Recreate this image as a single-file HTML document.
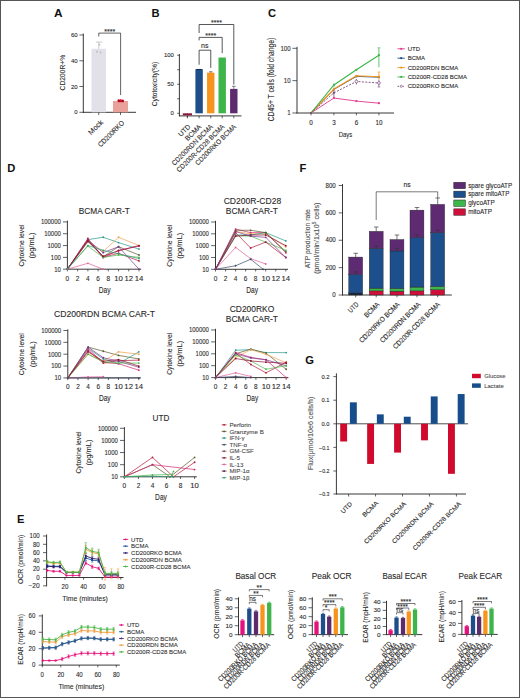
<!DOCTYPE html>
<html><head><meta charset="utf-8"><style>
html,body{margin:0;padding:0;background:#fff;}
svg{display:block;}
text{font-family:"Liberation Sans", sans-serif;}
</style></head><body>
<svg width="520" height="698" viewBox="0 0 520 698">
<rect x="0" y="0" width="520" height="698" fill="#fff"/>
<text x="53.90" y="16.50" font-size="11.2" text-anchor="start" fill="#111" font-weight="bold" textLength="8.6" lengthAdjust="spacingAndGlyphs" >A</text>
<line x1="83.30" y1="33.50" x2="83.30" y2="112.80" stroke="#222" stroke-width="0.9" />
<line x1="83.00" y1="112.30" x2="136.00" y2="112.30" stroke="#222" stroke-width="0.9" />
<line x1="79.40" y1="112.30" x2="83.30" y2="112.30" stroke="#222" stroke-width="0.7" />
<text x="77.60" y="114.40" font-size="6.0" text-anchor="end" fill="#2a2a2a" stroke="#2a2a2a" stroke-width="0.1" >0</text>
<line x1="79.40" y1="86.53" x2="83.30" y2="86.53" stroke="#222" stroke-width="0.7" />
<text x="77.60" y="88.63" font-size="6.0" text-anchor="end" fill="#2a2a2a" stroke="#2a2a2a" stroke-width="0.1" >20</text>
<line x1="79.40" y1="60.77" x2="83.30" y2="60.77" stroke="#222" stroke-width="0.7" />
<text x="77.60" y="62.87" font-size="6.0" text-anchor="end" fill="#2a2a2a" stroke="#2a2a2a" stroke-width="0.1" >40</text>
<line x1="79.40" y1="35.00" x2="83.30" y2="35.00" stroke="#222" stroke-width="0.7" />
<text x="77.60" y="37.10" font-size="6.0" text-anchor="end" fill="#2a2a2a" stroke="#2a2a2a" stroke-width="0.1" >60</text>
<text x="65.00" y="72.60" font-size="7.5" text-anchor="middle" fill="#2a2a2a" stroke="#2a2a2a" stroke-width="0.1" textLength="35.6" lengthAdjust="spacingAndGlyphs" transform="rotate(-90 65.00 72.60)" >CD200R+%</text>
<rect x="91.50" y="48.79" width="14.50" height="63.51" fill="#e2e1ea" />
<rect x="113.00" y="100.96" width="15.00" height="11.34" fill="#e9a29a" />
<line x1="98.75" y1="42.09" x2="98.75" y2="48.79" stroke="#aaa" stroke-width="0.6" />
<line x1="95.80" y1="42.09" x2="102.30" y2="42.09" stroke="#aaa" stroke-width="0.6" />
<circle cx="97.00" cy="51.75" r="0.9" fill="#bbb" />
<circle cx="99.50" cy="44.66" r="0.9" fill="#bbb" />
<circle cx="100.50" cy="52.39" r="0.9" fill="#bbb" />
<line x1="120.50" y1="99.03" x2="120.50" y2="100.96" stroke="#c00" stroke-width="0.6" />
<rect x="117.80" y="99.60" width="6.00" height="2.60" fill="#c8102e" />
<circle cx="118.60" cy="100.60" r="1.1" fill="#a00a20" />
<circle cx="122.80" cy="101.00" r="1.1" fill="#a00a20" />
<line x1="98.75" y1="112.30" x2="98.75" y2="115.00" stroke="#222" stroke-width="0.7" />
<line x1="120.50" y1="112.30" x2="120.50" y2="115.00" stroke="#222" stroke-width="0.7" />
<line x1="98.75" y1="33.10" x2="120.60" y2="33.10" stroke="#222" stroke-width="0.7" />
<line x1="98.75" y1="33.10" x2="98.75" y2="36.50" stroke="#222" stroke-width="0.7" />
<line x1="120.60" y1="33.10" x2="120.60" y2="95.00" stroke="#222" stroke-width="0.7" />
<text x="109.80" y="33.60" font-size="7.0" text-anchor="middle" fill="#2a2a2a" stroke="#2a2a2a" stroke-width="0.1" textLength="11" lengthAdjust="spacingAndGlyphs" >****</text>
<text x="103.50" y="122.80" font-size="7.2" text-anchor="end" fill="#2a2a2a" stroke="#2a2a2a" stroke-width="0.1" textLength="17.5" lengthAdjust="spacingAndGlyphs" transform="rotate(-45 103.50 122.80)" >Mock</text>
<text x="124.70" y="123.50" font-size="7.2" text-anchor="end" fill="#2a2a2a" stroke="#2a2a2a" stroke-width="0.1" textLength="34" lengthAdjust="spacingAndGlyphs" transform="rotate(-45 124.70 123.50)" >CD200RKO</text>
<text x="151.50" y="16.50" font-size="11.2" text-anchor="start" fill="#111" font-weight="bold" >B</text>
<line x1="179.40" y1="54.00" x2="179.40" y2="116.30" stroke="#222" stroke-width="0.9" />
<line x1="179.00" y1="115.90" x2="241.50" y2="115.90" stroke="#222" stroke-width="0.9" />
<line x1="177.20" y1="113.30" x2="179.40" y2="113.30" stroke="#222" stroke-width="0.7" />
<text x="173.80" y="115.40" font-size="6.0" text-anchor="end" fill="#2a2a2a" stroke="#2a2a2a" stroke-width="0.1" textLength="3.3" lengthAdjust="spacingAndGlyphs" >0</text>
<line x1="177.20" y1="98.78" x2="179.40" y2="98.78" stroke="#222" stroke-width="0.7" />
<line x1="177.20" y1="84.25" x2="179.40" y2="84.25" stroke="#222" stroke-width="0.7" />
<text x="173.80" y="86.35" font-size="6.0" text-anchor="end" fill="#2a2a2a" stroke="#2a2a2a" stroke-width="0.1" textLength="6.6" lengthAdjust="spacingAndGlyphs" >50</text>
<line x1="177.20" y1="69.72" x2="179.40" y2="69.72" stroke="#222" stroke-width="0.7" />
<line x1="177.20" y1="55.20" x2="179.40" y2="55.20" stroke="#222" stroke-width="0.7" />
<text x="173.80" y="57.30" font-size="6.0" text-anchor="end" fill="#2a2a2a" stroke="#2a2a2a" stroke-width="0.1" textLength="9.899999999999999" lengthAdjust="spacingAndGlyphs" >100</text>
<text x="157.40" y="84.00" font-size="7.9" text-anchor="middle" fill="#2a2a2a" stroke="#2a2a2a" stroke-width="0.1" textLength="44.5" lengthAdjust="spacingAndGlyphs" transform="rotate(-90 157.40 84.00)" >Cytotoxicity(%)</text>
<rect x="182.80" y="113.30" width="9.20" height="2.00" fill="#8b1a3a" />
<line x1="187.40" y1="113.30" x2="187.40" y2="117.70" stroke="#8b1a3a" stroke-width="0.6" />
<rect x="195.40" y="69.14" width="7.40" height="44.16" fill="#1d4e89" />
<rect x="207.05" y="72.63" width="7.40" height="40.67" fill="#f7941d" />
<rect x="218.50" y="57.52" width="7.40" height="55.78" fill="#3db54a" />
<rect x="230.10" y="88.90" width="7.40" height="24.40" fill="#5c2b6e" />
<line x1="187.40" y1="115.90" x2="187.40" y2="118.30" stroke="#222" stroke-width="0.7" />
<line x1="199.10" y1="115.90" x2="199.10" y2="118.30" stroke="#222" stroke-width="0.7" />
<line x1="210.75" y1="115.90" x2="210.75" y2="118.30" stroke="#222" stroke-width="0.7" />
<line x1="222.20" y1="115.90" x2="222.20" y2="118.30" stroke="#222" stroke-width="0.7" />
<line x1="233.80" y1="115.90" x2="233.80" y2="118.30" stroke="#222" stroke-width="0.7" />
<line x1="233.80" y1="86.28" x2="233.80" y2="88.90" stroke="#333" stroke-width="0.6" />
<line x1="232.00" y1="86.28" x2="235.60" y2="86.28" stroke="#333" stroke-width="0.6" />
<line x1="210.75" y1="71.76" x2="210.75" y2="72.63" stroke="#333" stroke-width="0.6" />
<line x1="209.00" y1="71.76" x2="212.50" y2="71.76" stroke="#333" stroke-width="0.6" />
<line x1="199.10" y1="50.20" x2="210.75" y2="50.20" stroke="#222" stroke-width="0.75" />
<line x1="199.10" y1="50.20" x2="199.10" y2="64.70" stroke="#222" stroke-width="0.75" />
<line x1="210.75" y1="50.20" x2="210.75" y2="67.90" stroke="#222" stroke-width="0.75" />
<text x="204.80" y="47.60" font-size="7.0" text-anchor="middle" fill="#2a2a2a" stroke="#2a2a2a" stroke-width="0.1" >ns</text>
<line x1="199.10" y1="37.40" x2="222.20" y2="37.40" stroke="#222" stroke-width="0.75" />
<line x1="199.10" y1="37.40" x2="199.10" y2="40.40" stroke="#222" stroke-width="0.75" />
<line x1="222.20" y1="37.40" x2="222.20" y2="53.10" stroke="#222" stroke-width="0.75" />
<text x="210.65" y="37.70" font-size="7.6" text-anchor="middle" fill="#2a2a2a" stroke="#2a2a2a" stroke-width="0.1" textLength="11" lengthAdjust="spacingAndGlyphs" >****</text>
<line x1="199.10" y1="24.50" x2="233.80" y2="24.50" stroke="#222" stroke-width="0.75" />
<line x1="199.10" y1="24.50" x2="199.10" y2="33.00" stroke="#222" stroke-width="0.75" />
<line x1="233.80" y1="24.50" x2="233.80" y2="84.50" stroke="#222" stroke-width="0.75" />
<text x="216.45" y="24.80" font-size="7.6" text-anchor="middle" fill="#2a2a2a" stroke="#2a2a2a" stroke-width="0.1" textLength="11" lengthAdjust="spacingAndGlyphs" >****</text>
<line x1="196.50" y1="69.44" x2="201.70" y2="69.44" stroke="#123" stroke-width="0.9" />
<text x="190.90" y="127.20" font-size="7.0" text-anchor="end" fill="#2a2a2a" stroke="#2a2a2a" stroke-width="0.1" textLength="14" lengthAdjust="spacingAndGlyphs" transform="rotate(-45 190.90 127.20)" >UTD</text>
<text x="201.90" y="127.20" font-size="7.0" text-anchor="end" fill="#2a2a2a" stroke="#2a2a2a" stroke-width="0.1" textLength="20" lengthAdjust="spacingAndGlyphs" transform="rotate(-45 201.90 127.20)" >BCMA</text>
<text x="213.30" y="127.20" font-size="7.0" text-anchor="end" fill="#2a2a2a" stroke="#2a2a2a" stroke-width="0.1" textLength="55" lengthAdjust="spacingAndGlyphs" transform="rotate(-45 213.30 127.20)" >CD200RDN BCMA</text>
<text x="224.90" y="127.20" font-size="7.0" text-anchor="end" fill="#2a2a2a" stroke="#2a2a2a" stroke-width="0.1" textLength="64.5" lengthAdjust="spacingAndGlyphs" transform="rotate(-45 224.90 127.20)" >CD200R-CD28 BCMA</text>
<text x="236.50" y="127.20" font-size="7.0" text-anchor="end" fill="#2a2a2a" stroke="#2a2a2a" stroke-width="0.1" textLength="54.5" lengthAdjust="spacingAndGlyphs" transform="rotate(-45 236.50 127.20)" >CD200RKO BCMA</text>
<text x="267.90" y="16.60" font-size="11.2" text-anchor="start" fill="#111" font-weight="bold" >C</text>
<line x1="297.00" y1="46.80" x2="297.00" y2="113.40" stroke="#222" stroke-width="0.9" />
<line x1="296.60" y1="113.00" x2="394.00" y2="113.00" stroke="#222" stroke-width="0.9" />
<line x1="292.40" y1="113.00" x2="297.00" y2="113.00" stroke="#222" stroke-width="0.7" />
<text x="290.60" y="115.30" font-size="6.6" text-anchor="end" fill="#2a2a2a" stroke="#2a2a2a" stroke-width="0.1" textLength="3.4" lengthAdjust="spacingAndGlyphs" >1</text>
<line x1="292.40" y1="80.65" x2="297.00" y2="80.65" stroke="#222" stroke-width="0.7" />
<text x="290.60" y="82.95" font-size="6.6" text-anchor="end" fill="#2a2a2a" stroke="#2a2a2a" stroke-width="0.1" textLength="6.8" lengthAdjust="spacingAndGlyphs" >10</text>
<line x1="292.40" y1="48.30" x2="297.00" y2="48.30" stroke="#222" stroke-width="0.7" />
<text x="290.60" y="50.60" font-size="6.6" text-anchor="end" fill="#2a2a2a" stroke="#2a2a2a" stroke-width="0.1" textLength="10.2" lengthAdjust="spacingAndGlyphs" >100</text>
<line x1="311.00" y1="113.00" x2="311.00" y2="115.30" stroke="#222" stroke-width="0.7" />
<text x="311.00" y="125.00" font-size="6.3" text-anchor="middle" fill="#2a2a2a" stroke="#2a2a2a" stroke-width="0.1" >0</text>
<line x1="333.90" y1="113.00" x2="333.90" y2="115.30" stroke="#222" stroke-width="0.7" />
<text x="333.90" y="125.00" font-size="6.3" text-anchor="middle" fill="#2a2a2a" stroke="#2a2a2a" stroke-width="0.1" >3</text>
<line x1="356.40" y1="113.00" x2="356.40" y2="115.30" stroke="#222" stroke-width="0.7" />
<text x="356.40" y="125.00" font-size="6.3" text-anchor="middle" fill="#2a2a2a" stroke="#2a2a2a" stroke-width="0.1" >6</text>
<line x1="378.90" y1="113.00" x2="378.90" y2="115.30" stroke="#222" stroke-width="0.7" />
<text x="378.90" y="125.00" font-size="6.3" text-anchor="middle" fill="#2a2a2a" stroke="#2a2a2a" stroke-width="0.1" >10</text>
<text x="345.50" y="136.50" font-size="8.0" text-anchor="middle" fill="#2a2a2a" stroke="#2a2a2a" stroke-width="0.1" textLength="13.6" lengthAdjust="spacingAndGlyphs" >Days</text>
<text x="274.40" y="79.60" font-size="8.2" text-anchor="middle" fill="#2a2a2a" stroke="#2a2a2a" stroke-width="0.1" textLength="83.5" lengthAdjust="spacingAndGlyphs" transform="rotate(-90 274.40 79.60)" >CD45+ T cells (fold change)</text>
<polyline points="311.00,113.00 333.90,98.00 356.40,101.10 378.90,103.20" fill="none" stroke="#e3378f" stroke-width="0.9" />
<circle cx="311.00" cy="113.00" r="1.1" fill="#e3378f" />
<circle cx="333.90" cy="98.00" r="1.1" fill="#e3378f" />
<circle cx="356.40" cy="101.10" r="1.1" fill="#e3378f" />
<circle cx="378.90" cy="103.20" r="1.1" fill="#e3378f" />
<polyline points="311.00,113.00 333.90,89.40 356.40,76.40 378.90,77.20" fill="none" stroke="#1d4e89" stroke-width="0.9" />
<circle cx="311.00" cy="113.00" r="1.1" fill="#1d4e89" />
<circle cx="333.90" cy="89.40" r="1.1" fill="#1d4e89" />
<circle cx="356.40" cy="76.40" r="1.1" fill="#1d4e89" />
<circle cx="378.90" cy="77.20" r="1.1" fill="#1d4e89" />
<polyline points="311.00,113.00 333.90,89.00 356.40,75.80 378.90,76.70" fill="none" stroke="#f7941d" stroke-width="1.1" />
<circle cx="311.00" cy="113.00" r="1.1" fill="#f7941d" />
<circle cx="333.90" cy="89.00" r="1.1" fill="#f7941d" />
<circle cx="356.40" cy="75.80" r="1.1" fill="#f7941d" />
<circle cx="378.90" cy="76.70" r="1.1" fill="#f7941d" />
<polyline points="311.00,113.00 333.90,85.00 356.40,69.80 378.90,55.20" fill="none" stroke="#3db54a" stroke-width="1.1" />
<circle cx="311.00" cy="113.00" r="1.1" fill="#3db54a" />
<circle cx="333.90" cy="85.00" r="1.1" fill="#3db54a" />
<circle cx="356.40" cy="69.80" r="1.1" fill="#3db54a" />
<circle cx="378.90" cy="55.20" r="1.1" fill="#3db54a" />
<polyline points="311.00,113.00 333.90,92.80 356.40,81.50 378.90,83.00" fill="none" stroke="#7a4a7e" stroke-width="0.9" stroke-dasharray="2,1.4"/>
<circle cx="311.00" cy="113.00" r="1.1" fill="#7a4a7e" />
<circle cx="333.90" cy="92.80" r="1.1" fill="#7a4a7e" />
<line x1="378.90" y1="47.80" x2="378.90" y2="67.30" stroke="#3db54a" stroke-width="0.8" />
<line x1="377.40" y1="47.80" x2="380.40" y2="47.80" stroke="#3db54a" stroke-width="0.6" />
<line x1="333.90" y1="83.30" x2="333.90" y2="87.60" stroke="#3db54a" stroke-width="0.7" />
<line x1="378.90" y1="72.00" x2="378.90" y2="79.00" stroke="#f7941d" stroke-width="0.8" />
<line x1="377.60" y1="72.00" x2="380.20" y2="72.00" stroke="#f7941d" stroke-width="0.6" />
<line x1="378.90" y1="79.50" x2="378.90" y2="87.00" stroke="#7a4a7e" stroke-width="0.8" />
<line x1="377.60" y1="87.00" x2="380.20" y2="87.00" stroke="#7a4a7e" stroke-width="0.6" />
<line x1="356.40" y1="79.00" x2="356.40" y2="84.50" stroke="#7a4a7e" stroke-width="0.8" />
<line x1="333.90" y1="90.00" x2="333.90" y2="97.00" stroke="#7a4a7e" stroke-width="0.8" />
<circle cx="378.90" cy="83.00" r="1.4" fill="white" stroke="#7a4a7e" stroke-width="0.7"/>
<circle cx="356.40" cy="81.50" r="1.4" fill="white" stroke="#7a4a7e" stroke-width="0.7"/>
<line x1="397.50" y1="48.80" x2="404.80" y2="48.80" stroke="#e3378f" stroke-width="0.9" />
<circle cx="401.20" cy="48.80" r="1.1" fill="#e3378f" />
<text x="407.70" y="50.90" font-size="6.0" text-anchor="start" fill="#2a2a2a" stroke="#2a2a2a" stroke-width="0.1" >UTD</text>
<line x1="397.50" y1="58.18" x2="404.80" y2="58.18" stroke="#1d4e89" stroke-width="0.9" />
<circle cx="401.20" cy="58.18" r="1.1" fill="#1d4e89" />
<text x="407.70" y="60.28" font-size="6.0" text-anchor="start" fill="#2a2a2a" stroke="#2a2a2a" stroke-width="0.1" >BCMA</text>
<line x1="397.50" y1="67.56" x2="404.80" y2="67.56" stroke="#f7941d" stroke-width="0.9" />
<circle cx="401.20" cy="67.56" r="1.1" fill="#f7941d" />
<text x="407.70" y="69.66" font-size="6.0" text-anchor="start" fill="#2a2a2a" stroke="#2a2a2a" stroke-width="0.1" >CD200RDN BCMA</text>
<line x1="397.50" y1="76.94" x2="404.80" y2="76.94" stroke="#3db54a" stroke-width="0.9" />
<circle cx="401.20" cy="76.94" r="1.1" fill="#3db54a" />
<text x="407.70" y="79.04" font-size="6.0" text-anchor="start" fill="#2a2a2a" stroke="#2a2a2a" stroke-width="0.1" >CD200R-CD28 BCMA</text>
<line x1="397.50" y1="86.32" x2="404.80" y2="86.32" stroke="#7a4a7e" stroke-width="0.9" stroke-dasharray="1.5,1"/>
<circle cx="401.20" cy="86.32" r="1.1" fill="white" stroke="#7a4a7e" stroke-width="0.6"/>
<text x="407.70" y="88.42" font-size="6.0" text-anchor="start" fill="#2a2a2a" stroke="#2a2a2a" stroke-width="0.1" >CD200RKO BCMA</text>
<text x="299.50" y="171.70" font-size="11.2" text-anchor="start" fill="#111" font-weight="bold" >F</text>
<line x1="342.50" y1="184.00" x2="342.50" y2="295.40" stroke="#222" stroke-width="0.9" />
<line x1="342.10" y1="295.00" x2="451.80" y2="295.00" stroke="#222" stroke-width="0.9" />
<line x1="338.70" y1="295.00" x2="342.50" y2="295.00" stroke="#222" stroke-width="0.7" />
<text x="335.80" y="297.20" font-size="6.3" text-anchor="end" fill="#2a2a2a" stroke="#2a2a2a" stroke-width="0.1" textLength="3.43" lengthAdjust="spacingAndGlyphs" >0</text>
<line x1="338.70" y1="267.62" x2="342.50" y2="267.62" stroke="#222" stroke-width="0.7" />
<text x="335.80" y="269.82" font-size="6.3" text-anchor="end" fill="#2a2a2a" stroke="#2a2a2a" stroke-width="0.1" textLength="10.290000000000001" lengthAdjust="spacingAndGlyphs" >200</text>
<line x1="338.70" y1="240.25" x2="342.50" y2="240.25" stroke="#222" stroke-width="0.7" />
<text x="335.80" y="242.45" font-size="6.3" text-anchor="end" fill="#2a2a2a" stroke="#2a2a2a" stroke-width="0.1" textLength="10.290000000000001" lengthAdjust="spacingAndGlyphs" >400</text>
<line x1="338.70" y1="212.88" x2="342.50" y2="212.88" stroke="#222" stroke-width="0.7" />
<text x="335.80" y="215.07" font-size="6.3" text-anchor="end" fill="#2a2a2a" stroke="#2a2a2a" stroke-width="0.1" textLength="10.290000000000001" lengthAdjust="spacingAndGlyphs" >600</text>
<line x1="338.70" y1="185.50" x2="342.50" y2="185.50" stroke="#222" stroke-width="0.7" />
<text x="335.80" y="187.70" font-size="6.3" text-anchor="end" fill="#2a2a2a" stroke="#2a2a2a" stroke-width="0.1" textLength="10.290000000000001" lengthAdjust="spacingAndGlyphs" >800</text>
<text x="310.20" y="238.80" font-size="7.4" text-anchor="middle" fill="#505050" stroke="#505050" stroke-width="0.1" textLength="59.1" lengthAdjust="spacingAndGlyphs" transform="rotate(-90 310.20 238.80)" >ATP production rate</text>
<text x="319.0" y="238.3" font-size="7.4" text-anchor="middle" fill="#505050" stroke="#505050" stroke-width="0.1" transform="rotate(-90 319.0 238.3)" textLength="71.6" lengthAdjust="spacingAndGlyphs">(pmol/min/1x10<tspan font-size="5" dy="-2.5">5</tspan><tspan dy="2.5"> cells)</tspan></text>
<rect x="348.75" y="292.95" width="13.90" height="2.05" fill="#1a2840" stroke="#222" stroke-width="0.4"/>
<rect x="348.75" y="292.95" width="13.90" height="0.00" fill="#1a3a2a" stroke="#222" stroke-width="0.4"/>
<rect x="348.75" y="274.47" width="13.90" height="18.48" fill="#1c4f8c" stroke="#222" stroke-width="0.4"/>
<rect x="348.75" y="257.09" width="13.90" height="17.38" fill="#5e2a72" stroke="#222" stroke-width="0.4"/>
<line x1="355.70" y1="253.25" x2="355.70" y2="257.09" stroke="#222" stroke-width="0.6" />
<line x1="353.40" y1="253.25" x2="358.00" y2="253.25" stroke="#222" stroke-width="0.6" />
<line x1="355.70" y1="271.87" x2="355.70" y2="274.47" stroke="#333" stroke-width="0.6" />
<line x1="353.70" y1="271.87" x2="357.70" y2="271.87" stroke="#333" stroke-width="0.6" />
<line x1="355.70" y1="295.00" x2="355.70" y2="297.30" stroke="#222" stroke-width="0.7" />
<rect x="369.25" y="290.89" width="13.90" height="4.11" fill="#d0103a" stroke="#222" stroke-width="0.4"/>
<rect x="369.25" y="288.16" width="13.90" height="2.74" fill="#3cb84a" stroke="#222" stroke-width="0.4"/>
<rect x="369.25" y="248.46" width="13.90" height="39.69" fill="#1c4f8c" stroke="#222" stroke-width="0.4"/>
<rect x="369.25" y="231.35" width="13.90" height="17.11" fill="#5e2a72" stroke="#222" stroke-width="0.4"/>
<line x1="376.20" y1="227.00" x2="376.20" y2="231.35" stroke="#222" stroke-width="0.6" />
<line x1="373.90" y1="227.00" x2="378.50" y2="227.00" stroke="#222" stroke-width="0.6" />
<line x1="376.20" y1="245.86" x2="376.20" y2="248.46" stroke="#333" stroke-width="0.6" />
<line x1="374.20" y1="245.86" x2="378.20" y2="245.86" stroke="#333" stroke-width="0.6" />
<line x1="376.20" y1="295.00" x2="376.20" y2="297.30" stroke="#222" stroke-width="0.7" />
<rect x="390.00" y="291.17" width="13.90" height="3.83" fill="#d0103a" stroke="#222" stroke-width="0.4"/>
<rect x="390.00" y="288.43" width="13.90" height="2.74" fill="#3cb84a" stroke="#222" stroke-width="0.4"/>
<rect x="390.00" y="250.93" width="13.90" height="37.50" fill="#1c4f8c" stroke="#222" stroke-width="0.4"/>
<rect x="390.00" y="239.57" width="13.90" height="11.36" fill="#5e2a72" stroke="#222" stroke-width="0.4"/>
<line x1="396.95" y1="235.00" x2="396.95" y2="239.57" stroke="#222" stroke-width="0.6" />
<line x1="394.65" y1="235.00" x2="399.25" y2="235.00" stroke="#222" stroke-width="0.6" />
<line x1="396.95" y1="248.33" x2="396.95" y2="250.93" stroke="#333" stroke-width="0.6" />
<line x1="394.95" y1="248.33" x2="398.95" y2="248.33" stroke="#333" stroke-width="0.6" />
<line x1="396.95" y1="295.00" x2="396.95" y2="297.30" stroke="#222" stroke-width="0.7" />
<rect x="410.00" y="290.89" width="13.90" height="4.11" fill="#d0103a" stroke="#222" stroke-width="0.4"/>
<rect x="410.00" y="287.06" width="13.90" height="3.83" fill="#3cb84a" stroke="#222" stroke-width="0.4"/>
<rect x="410.00" y="237.51" width="13.90" height="49.55" fill="#1c4f8c" stroke="#222" stroke-width="0.4"/>
<rect x="410.00" y="210.14" width="13.90" height="27.38" fill="#5e2a72" stroke="#222" stroke-width="0.4"/>
<line x1="416.95" y1="207.50" x2="416.95" y2="210.14" stroke="#222" stroke-width="0.6" />
<line x1="414.65" y1="207.50" x2="419.25" y2="207.50" stroke="#222" stroke-width="0.6" />
<line x1="416.95" y1="234.91" x2="416.95" y2="237.51" stroke="#333" stroke-width="0.6" />
<line x1="414.95" y1="234.91" x2="418.95" y2="234.91" stroke="#333" stroke-width="0.6" />
<line x1="416.95" y1="295.00" x2="416.95" y2="297.30" stroke="#222" stroke-width="0.7" />
<rect x="430.75" y="289.80" width="13.90" height="5.20" fill="#d0103a" stroke="#222" stroke-width="0.4"/>
<rect x="430.75" y="286.38" width="13.90" height="3.42" fill="#3cb84a" stroke="#222" stroke-width="0.4"/>
<rect x="430.75" y="232.72" width="13.90" height="53.65" fill="#1c4f8c" stroke="#222" stroke-width="0.4"/>
<rect x="430.75" y="204.39" width="13.90" height="28.33" fill="#5e2a72" stroke="#222" stroke-width="0.4"/>
<line x1="437.70" y1="198.00" x2="437.70" y2="204.39" stroke="#222" stroke-width="0.6" />
<line x1="435.40" y1="198.00" x2="440.00" y2="198.00" stroke="#222" stroke-width="0.6" />
<line x1="437.70" y1="230.12" x2="437.70" y2="232.72" stroke="#333" stroke-width="0.6" />
<line x1="435.70" y1="230.12" x2="439.70" y2="230.12" stroke="#333" stroke-width="0.6" />
<line x1="437.70" y1="295.00" x2="437.70" y2="297.30" stroke="#222" stroke-width="0.7" />
<line x1="376.20" y1="191.80" x2="437.70" y2="191.80" stroke="#222" stroke-width="0.6" />
<line x1="376.20" y1="191.80" x2="376.20" y2="220.00" stroke="#222" stroke-width="0.6" />
<line x1="437.70" y1="191.80" x2="437.70" y2="198.00" stroke="#222" stroke-width="0.6" />
<text x="407.00" y="187.40" font-size="6.8" text-anchor="middle" fill="#2a2a2a" stroke="#2a2a2a" stroke-width="0.1" >ns</text>
<rect x="453.80" y="182.30" width="11.60" height="6.40" fill="#5e2a72" stroke="#222" stroke-width="0.5"/>
<text x="468.20" y="187.50" font-size="6.3" text-anchor="start" fill="#2a2a2a" stroke="#2a2a2a" stroke-width="0.1" >spare glycoATP</text>
<rect x="453.80" y="191.15" width="11.60" height="6.40" fill="#1c4f8c" stroke="#222" stroke-width="0.5"/>
<text x="468.20" y="196.35" font-size="6.3" text-anchor="start" fill="#2a2a2a" stroke="#2a2a2a" stroke-width="0.1" >spare mitoATP</text>
<rect x="453.80" y="200.00" width="11.60" height="6.40" fill="#3cb84a" stroke="#222" stroke-width="0.5"/>
<text x="468.20" y="205.20" font-size="6.3" text-anchor="start" fill="#2a2a2a" stroke="#2a2a2a" stroke-width="0.1" >glycoATP</text>
<rect x="453.80" y="208.85" width="11.60" height="6.40" fill="#d0103a" stroke="#222" stroke-width="0.5"/>
<text x="468.20" y="214.05" font-size="6.3" text-anchor="start" fill="#2a2a2a" stroke="#2a2a2a" stroke-width="0.1" >mitoATP</text>
<text x="359.00" y="305.00" font-size="7.2" text-anchor="end" fill="#2a2a2a" stroke="#2a2a2a" stroke-width="0.1" textLength="11.5" lengthAdjust="spacingAndGlyphs" transform="rotate(-45 359.00 305.00)" >UTD</text>
<text x="380.10" y="305.00" font-size="7.2" text-anchor="end" fill="#2a2a2a" stroke="#2a2a2a" stroke-width="0.1" textLength="18.5" lengthAdjust="spacingAndGlyphs" transform="rotate(-45 380.10 305.00)" >BCMA</text>
<text x="400.20" y="305.00" font-size="7.2" text-anchor="end" fill="#2a2a2a" stroke="#2a2a2a" stroke-width="0.1" textLength="54" lengthAdjust="spacingAndGlyphs" transform="rotate(-45 400.20 305.00)" >CD200RKO BCMA</text>
<text x="421.00" y="305.00" font-size="7.2" text-anchor="end" fill="#2a2a2a" stroke="#2a2a2a" stroke-width="0.1" textLength="54" lengthAdjust="spacingAndGlyphs" transform="rotate(-45 421.00 305.00)" >CD200RDN BCMA</text>
<text x="440.40" y="305.00" font-size="7.2" text-anchor="end" fill="#2a2a2a" stroke="#2a2a2a" stroke-width="0.1" textLength="63" lengthAdjust="spacingAndGlyphs" transform="rotate(-45 440.40 305.00)" >CD200R-CD28 BCMA</text>
<text x="305.30" y="364.40" font-size="11.2" text-anchor="start" fill="#111" font-weight="bold" >G</text>
<line x1="336.40" y1="373.30" x2="336.40" y2="494.30" stroke="#222" stroke-width="0.9" />
<line x1="336.00" y1="494.00" x2="466.00" y2="494.00" stroke="#222" stroke-width="0.9" />
<line x1="336.40" y1="423.80" x2="468.10" y2="423.80" stroke="#222" stroke-width="0.8" />
<line x1="333.30" y1="376.60" x2="336.40" y2="376.60" stroke="#222" stroke-width="0.7" />
<text x="329.40" y="378.70" font-size="6.0" text-anchor="end" fill="#2a2a2a" stroke="#2a2a2a" stroke-width="0.1" textLength="8.0" lengthAdjust="spacingAndGlyphs" >0.2</text>
<line x1="333.30" y1="400.20" x2="336.40" y2="400.20" stroke="#222" stroke-width="0.7" />
<text x="329.40" y="402.30" font-size="6.0" text-anchor="end" fill="#2a2a2a" stroke="#2a2a2a" stroke-width="0.1" textLength="8.0" lengthAdjust="spacingAndGlyphs" >0.1</text>
<line x1="333.30" y1="423.80" x2="336.40" y2="423.80" stroke="#222" stroke-width="0.7" />
<text x="329.40" y="425.90" font-size="6.0" text-anchor="end" fill="#2a2a2a" stroke="#2a2a2a" stroke-width="0.1" textLength="8.0" lengthAdjust="spacingAndGlyphs" >0.0</text>
<line x1="333.30" y1="447.40" x2="336.40" y2="447.40" stroke="#222" stroke-width="0.7" />
<text x="329.40" y="449.50" font-size="6.0" text-anchor="end" fill="#2a2a2a" stroke="#2a2a2a" stroke-width="0.1" textLength="10.3" lengthAdjust="spacingAndGlyphs" >−0.1</text>
<line x1="333.30" y1="471.00" x2="336.40" y2="471.00" stroke="#222" stroke-width="0.7" />
<text x="329.40" y="473.10" font-size="6.0" text-anchor="end" fill="#2a2a2a" stroke="#2a2a2a" stroke-width="0.1" textLength="10.3" lengthAdjust="spacingAndGlyphs" >−0.2</text>
<line x1="333.30" y1="494.00" x2="336.40" y2="494.00" stroke="#222" stroke-width="0.7" />
<text x="329.40" y="496.10" font-size="6.0" text-anchor="end" fill="#2a2a2a" stroke="#2a2a2a" stroke-width="0.1" textLength="10.3" lengthAdjust="spacingAndGlyphs" >−0.3</text>
<text x="313.00" y="433.40" font-size="7.2" text-anchor="middle" fill="#505050" stroke="#505050" stroke-width="0.1" textLength="73.4" lengthAdjust="spacingAndGlyphs" transform="rotate(-90 313.00 433.40)" >Flux(μmol/10e6 cells/h)</text>
<rect x="340.20" y="423.80" width="6.90" height="17.70" fill="#cf0a2c" />
<rect x="349.90" y="402.32" width="6.90" height="21.48" fill="#174d8a" />
<line x1="348.60" y1="494.00" x2="348.60" y2="496.50" stroke="#222" stroke-width="0.7" />
<rect x="367.15" y="423.80" width="6.90" height="40.12" fill="#cf0a2c" />
<rect x="376.85" y="414.36" width="6.90" height="9.44" fill="#174d8a" />
<line x1="375.55" y1="494.00" x2="375.55" y2="496.50" stroke="#222" stroke-width="0.7" />
<rect x="394.10" y="423.80" width="6.90" height="28.79" fill="#cf0a2c" />
<rect x="403.80" y="416.72" width="6.90" height="7.08" fill="#174d8a" />
<line x1="402.50" y1="494.00" x2="402.50" y2="496.50" stroke="#222" stroke-width="0.7" />
<rect x="421.05" y="423.80" width="6.90" height="16.52" fill="#cf0a2c" />
<rect x="430.75" y="396.42" width="6.90" height="27.38" fill="#174d8a" />
<line x1="429.45" y1="494.00" x2="429.45" y2="496.50" stroke="#222" stroke-width="0.7" />
<rect x="448.00" y="423.80" width="6.90" height="50.03" fill="#cf0a2c" />
<rect x="457.70" y="394.06" width="6.90" height="29.74" fill="#174d8a" />
<line x1="456.40" y1="494.00" x2="456.40" y2="496.50" stroke="#222" stroke-width="0.7" />
<rect x="472.00" y="373.80" width="8.80" height="4.40" fill="#cf0a2c" />
<rect x="472.00" y="383.40" width="8.80" height="4.40" fill="#174d8a" />
<text x="484.20" y="378.20" font-size="5.8" text-anchor="start" fill="#505050" stroke="#505050" stroke-width="0.1" textLength="21.3" lengthAdjust="spacingAndGlyphs" >Glucose</text>
<text x="484.20" y="387.80" font-size="5.8" text-anchor="start" fill="#505050" stroke="#505050" stroke-width="0.1" textLength="19.5" lengthAdjust="spacingAndGlyphs" >Lactate</text>
<text x="352.70" y="504.40" font-size="6.3" text-anchor="end" fill="#2a2a2a" stroke="#2a2a2a" stroke-width="0.1" textLength="13.5" lengthAdjust="spacingAndGlyphs" transform="rotate(-45 352.70 504.40)" >UTD</text>
<text x="378.90" y="503.40" font-size="6.3" text-anchor="end" fill="#2a2a2a" stroke="#2a2a2a" stroke-width="0.1" textLength="20" lengthAdjust="spacingAndGlyphs" transform="rotate(-45 378.90 503.40)" >BCMA</text>
<text x="406.50" y="504.40" font-size="6.3" text-anchor="end" fill="#2a2a2a" stroke="#2a2a2a" stroke-width="0.1" textLength="56.5" lengthAdjust="spacingAndGlyphs" transform="rotate(-45 406.50 504.40)" >CD200RKO BCMA</text>
<text x="434.00" y="504.40" font-size="6.3" text-anchor="end" fill="#2a2a2a" stroke="#2a2a2a" stroke-width="0.1" textLength="56" lengthAdjust="spacingAndGlyphs" transform="rotate(-45 434.00 504.40)" >CD200RDN BCMA</text>
<text x="461.50" y="504.40" font-size="6.3" text-anchor="end" fill="#2a2a2a" stroke="#2a2a2a" stroke-width="0.1" textLength="65.5" lengthAdjust="spacingAndGlyphs" transform="rotate(-45 461.50 504.40)" >CD200R-CD28 BCMA</text>
<text x="7.20" y="171.60" font-size="11.2" text-anchor="start" fill="#111" font-weight="bold" >D</text>
<line x1="67.40" y1="220.70" x2="67.40" y2="269.60" stroke="#222" stroke-width="0.9" />
<line x1="67.00" y1="269.20" x2="141.20" y2="269.20" stroke="#222" stroke-width="0.9" />
<line x1="63.00" y1="269.20" x2="67.40" y2="269.20" stroke="#222" stroke-width="0.7" />
<text x="60.80" y="271.50" font-size="6.6" text-anchor="end" fill="#2a2a2a" stroke="#2a2a2a" stroke-width="0.1" textLength="6.64" lengthAdjust="spacingAndGlyphs" >10</text>
<line x1="63.00" y1="257.38" x2="67.40" y2="257.38" stroke="#222" stroke-width="0.7" />
<text x="60.80" y="259.68" font-size="6.6" text-anchor="end" fill="#2a2a2a" stroke="#2a2a2a" stroke-width="0.1" textLength="9.959999999999999" lengthAdjust="spacingAndGlyphs" >100</text>
<line x1="63.00" y1="245.55" x2="67.40" y2="245.55" stroke="#222" stroke-width="0.7" />
<text x="60.80" y="247.85" font-size="6.6" text-anchor="end" fill="#2a2a2a" stroke="#2a2a2a" stroke-width="0.1" textLength="13.28" lengthAdjust="spacingAndGlyphs" >1000</text>
<line x1="63.00" y1="233.72" x2="67.40" y2="233.72" stroke="#222" stroke-width="0.7" />
<text x="60.80" y="236.03" font-size="6.6" text-anchor="end" fill="#2a2a2a" stroke="#2a2a2a" stroke-width="0.1" textLength="16.599999999999998" lengthAdjust="spacingAndGlyphs" >10000</text>
<line x1="63.00" y1="221.90" x2="67.40" y2="221.90" stroke="#222" stroke-width="0.7" />
<text x="60.80" y="224.20" font-size="6.6" text-anchor="end" fill="#2a2a2a" stroke="#2a2a2a" stroke-width="0.1" textLength="19.919999999999998" lengthAdjust="spacingAndGlyphs" >100000</text>
<line x1="67.40" y1="269.20" x2="67.40" y2="271.40" stroke="#222" stroke-width="0.7" />
<text x="67.40" y="280.70" font-size="6.6" text-anchor="middle" fill="#2a2a2a" stroke="#2a2a2a" stroke-width="0.1" textLength="3.6" lengthAdjust="spacingAndGlyphs" >0</text>
<line x1="77.63" y1="269.20" x2="77.63" y2="271.40" stroke="#222" stroke-width="0.7" />
<text x="77.63" y="280.70" font-size="6.6" text-anchor="middle" fill="#2a2a2a" stroke="#2a2a2a" stroke-width="0.1" textLength="3.6" lengthAdjust="spacingAndGlyphs" >2</text>
<line x1="87.86" y1="269.20" x2="87.86" y2="271.40" stroke="#222" stroke-width="0.7" />
<text x="87.86" y="280.70" font-size="6.6" text-anchor="middle" fill="#2a2a2a" stroke="#2a2a2a" stroke-width="0.1" textLength="3.6" lengthAdjust="spacingAndGlyphs" >4</text>
<line x1="98.09" y1="269.20" x2="98.09" y2="271.40" stroke="#222" stroke-width="0.7" />
<text x="98.09" y="280.70" font-size="6.6" text-anchor="middle" fill="#2a2a2a" stroke="#2a2a2a" stroke-width="0.1" textLength="3.6" lengthAdjust="spacingAndGlyphs" >6</text>
<line x1="108.31" y1="269.20" x2="108.31" y2="271.40" stroke="#222" stroke-width="0.7" />
<text x="108.31" y="280.70" font-size="6.6" text-anchor="middle" fill="#2a2a2a" stroke="#2a2a2a" stroke-width="0.1" textLength="3.6" lengthAdjust="spacingAndGlyphs" >8</text>
<line x1="118.54" y1="269.20" x2="118.54" y2="271.40" stroke="#222" stroke-width="0.7" />
<text x="118.54" y="280.70" font-size="6.6" text-anchor="middle" fill="#2a2a2a" stroke="#2a2a2a" stroke-width="0.1" textLength="8.6" lengthAdjust="spacingAndGlyphs" >10</text>
<line x1="128.77" y1="269.20" x2="128.77" y2="271.40" stroke="#222" stroke-width="0.7" />
<text x="128.77" y="280.70" font-size="6.6" text-anchor="middle" fill="#2a2a2a" stroke="#2a2a2a" stroke-width="0.1" textLength="8.6" lengthAdjust="spacingAndGlyphs" >12</text>
<line x1="139.00" y1="269.20" x2="139.00" y2="271.40" stroke="#222" stroke-width="0.7" />
<text x="139.00" y="280.70" font-size="6.6" text-anchor="middle" fill="#2a2a2a" stroke="#2a2a2a" stroke-width="0.1" textLength="8.6" lengthAdjust="spacingAndGlyphs" >14</text>
<text x="104.70" y="292.50" font-size="8.6" text-anchor="middle" fill="#2a2a2a" stroke="#2a2a2a" stroke-width="0.1" textLength="11.8" lengthAdjust="spacingAndGlyphs" >Day</text>
<text x="23.70" y="245.55" font-size="8.0" text-anchor="middle" fill="#2a2a2a" stroke="#2a2a2a" stroke-width="0.1" textLength="42" lengthAdjust="spacingAndGlyphs" transform="rotate(-90 23.70 245.55)" >Cytokine level</text>
<text x="34.40" y="245.55" font-size="8.0" text-anchor="middle" fill="#2a2a2a" stroke="#2a2a2a" stroke-width="0.1" textLength="26" lengthAdjust="spacingAndGlyphs" transform="rotate(-90 34.40 245.55)" >(pg/mL)</text>
<text x="104.30" y="214.10" font-size="8.3" text-anchor="middle" fill="#2a2a2a" stroke="#2a2a2a" stroke-width="0.1" textLength="51.2" lengthAdjust="spacingAndGlyphs" >BCMA CAR-T</text>
<polyline points="67.40,269.20 87.86,239.64 103.20,237.27 118.54,242.59 139.00,249.10" fill="none" stroke="#2a9a8a" stroke-width="0.7" />
<circle cx="67.40" cy="269.20" r="0.9" fill="#2a9a8a" />
<circle cx="87.86" cy="239.64" r="0.9" fill="#2a9a8a" />
<circle cx="103.20" cy="237.27" r="0.9" fill="#2a9a8a" />
<circle cx="118.54" cy="242.59" r="0.9" fill="#2a9a8a" />
<circle cx="139.00" cy="249.10" r="0.9" fill="#2a9a8a" />
<polyline points="67.40,269.20 87.86,242.00 103.20,251.46 118.54,237.27 139.00,245.55" fill="none" stroke="#f0a050" stroke-width="0.7" />
<circle cx="67.40" cy="269.20" r="0.9" fill="#f0a050" />
<circle cx="87.86" cy="242.00" r="0.9" fill="#f0a050" />
<circle cx="103.20" cy="251.46" r="0.9" fill="#f0a050" />
<circle cx="118.54" cy="237.27" r="0.9" fill="#f0a050" />
<circle cx="139.00" cy="245.55" r="0.9" fill="#f0a050" />
<polyline points="67.40,269.20 87.86,241.41 103.20,256.78 118.54,246.73 139.00,255.01" fill="none" stroke="#5a5a2a" stroke-width="0.7" />
<circle cx="67.40" cy="269.20" r="0.9" fill="#5a5a2a" />
<circle cx="87.86" cy="241.41" r="0.9" fill="#5a5a2a" />
<circle cx="103.20" cy="256.78" r="0.9" fill="#5a5a2a" />
<circle cx="118.54" cy="246.73" r="0.9" fill="#5a5a2a" />
<circle cx="139.00" cy="255.01" r="0.9" fill="#5a5a2a" />
<polyline points="67.40,269.20 87.86,239.64 103.20,257.38 118.54,250.28 139.00,246.14" fill="none" stroke="#d6246e" stroke-width="0.7" />
<circle cx="67.40" cy="269.20" r="0.9" fill="#d6246e" />
<circle cx="87.86" cy="239.64" r="0.9" fill="#d6246e" />
<circle cx="103.20" cy="257.38" r="0.9" fill="#d6246e" />
<circle cx="118.54" cy="250.28" r="0.9" fill="#d6246e" />
<circle cx="139.00" cy="246.14" r="0.9" fill="#d6246e" />
<polyline points="67.40,269.20 87.86,238.45 103.20,257.38 118.54,253.24 139.00,260.92" fill="none" stroke="#b5173a" stroke-width="0.7" />
<circle cx="67.40" cy="269.20" r="0.9" fill="#b5173a" />
<circle cx="87.86" cy="238.45" r="0.9" fill="#b5173a" />
<circle cx="103.20" cy="257.38" r="0.9" fill="#b5173a" />
<circle cx="118.54" cy="253.24" r="0.9" fill="#b5173a" />
<circle cx="139.00" cy="260.92" r="0.9" fill="#b5173a" />
<polyline points="67.40,269.20 87.86,246.14 103.20,257.38 118.54,255.01 139.00,257.38" fill="none" stroke="#4cb848" stroke-width="0.7" />
<circle cx="67.40" cy="269.20" r="0.9" fill="#4cb848" />
<circle cx="87.86" cy="246.14" r="0.9" fill="#4cb848" />
<circle cx="103.20" cy="257.38" r="0.9" fill="#4cb848" />
<circle cx="118.54" cy="255.01" r="0.9" fill="#4cb848" />
<circle cx="139.00" cy="257.38" r="0.9" fill="#4cb848" />
<polyline points="67.40,269.20 87.86,240.23 103.20,252.64 118.54,246.73 139.00,269.20" fill="none" stroke="#7a3a8a" stroke-width="0.7" />
<circle cx="67.40" cy="269.20" r="0.9" fill="#7a3a8a" />
<circle cx="87.86" cy="240.23" r="0.9" fill="#7a3a8a" />
<circle cx="103.20" cy="252.64" r="0.9" fill="#7a3a8a" />
<circle cx="118.54" cy="246.73" r="0.9" fill="#7a3a8a" />
<circle cx="139.00" cy="269.20" r="0.9" fill="#7a3a8a" />
<polyline points="67.40,269.20 87.86,240.82 103.20,256.19 118.54,250.87 139.00,245.55" fill="none" stroke="#8b1030" stroke-width="0.7" />
<circle cx="67.40" cy="269.20" r="0.9" fill="#8b1030" />
<circle cx="87.86" cy="240.82" r="0.9" fill="#8b1030" />
<circle cx="103.20" cy="256.19" r="0.9" fill="#8b1030" />
<circle cx="118.54" cy="250.87" r="0.9" fill="#8b1030" />
<circle cx="139.00" cy="245.55" r="0.9" fill="#8b1030" />
<polyline points="67.40,269.20 87.86,263.29 103.20,269.20" fill="none" stroke="#e0609a" stroke-width="0.7" />
<circle cx="67.40" cy="269.20" r="0.9" fill="#e0609a" />
<circle cx="87.86" cy="263.29" r="0.9" fill="#e0609a" />
<circle cx="103.20" cy="269.20" r="0.9" fill="#e0609a" />
<polyline points="67.40,269.20 87.86,245.55 103.20,250.28 118.54,253.83 139.00,258.56" fill="none" stroke="#3aa07a" stroke-width="0.7" />
<circle cx="67.40" cy="269.20" r="0.9" fill="#3aa07a" />
<circle cx="87.86" cy="245.55" r="0.9" fill="#3aa07a" />
<circle cx="103.20" cy="250.28" r="0.9" fill="#3aa07a" />
<circle cx="118.54" cy="253.83" r="0.9" fill="#3aa07a" />
<circle cx="139.00" cy="258.56" r="0.9" fill="#3aa07a" />
<line x1="215.50" y1="220.80" x2="215.50" y2="269.70" stroke="#222" stroke-width="0.9" />
<line x1="215.10" y1="269.30" x2="288.00" y2="269.30" stroke="#222" stroke-width="0.9" />
<line x1="211.10" y1="269.30" x2="215.50" y2="269.30" stroke="#222" stroke-width="0.7" />
<text x="208.90" y="271.60" font-size="6.6" text-anchor="end" fill="#2a2a2a" stroke="#2a2a2a" stroke-width="0.1" textLength="6.64" lengthAdjust="spacingAndGlyphs" >10</text>
<line x1="211.10" y1="257.48" x2="215.50" y2="257.48" stroke="#222" stroke-width="0.7" />
<text x="208.90" y="259.78" font-size="6.6" text-anchor="end" fill="#2a2a2a" stroke="#2a2a2a" stroke-width="0.1" textLength="9.959999999999999" lengthAdjust="spacingAndGlyphs" >100</text>
<line x1="211.10" y1="245.65" x2="215.50" y2="245.65" stroke="#222" stroke-width="0.7" />
<text x="208.90" y="247.95" font-size="6.6" text-anchor="end" fill="#2a2a2a" stroke="#2a2a2a" stroke-width="0.1" textLength="13.28" lengthAdjust="spacingAndGlyphs" >1000</text>
<line x1="211.10" y1="233.82" x2="215.50" y2="233.82" stroke="#222" stroke-width="0.7" />
<text x="208.90" y="236.12" font-size="6.6" text-anchor="end" fill="#2a2a2a" stroke="#2a2a2a" stroke-width="0.1" textLength="16.599999999999998" lengthAdjust="spacingAndGlyphs" >10000</text>
<line x1="211.10" y1="222.00" x2="215.50" y2="222.00" stroke="#222" stroke-width="0.7" />
<text x="208.90" y="224.30" font-size="6.6" text-anchor="end" fill="#2a2a2a" stroke="#2a2a2a" stroke-width="0.1" textLength="19.919999999999998" lengthAdjust="spacingAndGlyphs" >100000</text>
<line x1="215.50" y1="269.30" x2="215.50" y2="271.50" stroke="#222" stroke-width="0.7" />
<text x="215.50" y="280.80" font-size="6.6" text-anchor="middle" fill="#2a2a2a" stroke="#2a2a2a" stroke-width="0.1" textLength="3.6" lengthAdjust="spacingAndGlyphs" >0</text>
<line x1="225.54" y1="269.30" x2="225.54" y2="271.50" stroke="#222" stroke-width="0.7" />
<text x="225.54" y="280.80" font-size="6.6" text-anchor="middle" fill="#2a2a2a" stroke="#2a2a2a" stroke-width="0.1" textLength="3.6" lengthAdjust="spacingAndGlyphs" >2</text>
<line x1="235.59" y1="269.30" x2="235.59" y2="271.50" stroke="#222" stroke-width="0.7" />
<text x="235.59" y="280.80" font-size="6.6" text-anchor="middle" fill="#2a2a2a" stroke="#2a2a2a" stroke-width="0.1" textLength="3.6" lengthAdjust="spacingAndGlyphs" >4</text>
<line x1="245.63" y1="269.30" x2="245.63" y2="271.50" stroke="#222" stroke-width="0.7" />
<text x="245.63" y="280.80" font-size="6.6" text-anchor="middle" fill="#2a2a2a" stroke="#2a2a2a" stroke-width="0.1" textLength="3.6" lengthAdjust="spacingAndGlyphs" >6</text>
<line x1="255.67" y1="269.30" x2="255.67" y2="271.50" stroke="#222" stroke-width="0.7" />
<text x="255.67" y="280.80" font-size="6.6" text-anchor="middle" fill="#2a2a2a" stroke="#2a2a2a" stroke-width="0.1" textLength="3.6" lengthAdjust="spacingAndGlyphs" >8</text>
<line x1="265.71" y1="269.30" x2="265.71" y2="271.50" stroke="#222" stroke-width="0.7" />
<text x="265.71" y="280.80" font-size="6.6" text-anchor="middle" fill="#2a2a2a" stroke="#2a2a2a" stroke-width="0.1" textLength="8.6" lengthAdjust="spacingAndGlyphs" >10</text>
<line x1="275.76" y1="269.30" x2="275.76" y2="271.50" stroke="#222" stroke-width="0.7" />
<text x="275.76" y="280.80" font-size="6.6" text-anchor="middle" fill="#2a2a2a" stroke="#2a2a2a" stroke-width="0.1" textLength="8.6" lengthAdjust="spacingAndGlyphs" >12</text>
<line x1="285.80" y1="269.30" x2="285.80" y2="271.50" stroke="#222" stroke-width="0.7" />
<text x="285.80" y="280.80" font-size="6.6" text-anchor="middle" fill="#2a2a2a" stroke="#2a2a2a" stroke-width="0.1" textLength="8.6" lengthAdjust="spacingAndGlyphs" >14</text>
<text x="252.15" y="292.60" font-size="8.6" text-anchor="middle" fill="#2a2a2a" stroke="#2a2a2a" stroke-width="0.1" textLength="11.8" lengthAdjust="spacingAndGlyphs" >Day</text>
<text x="171.80" y="245.65" font-size="8.0" text-anchor="middle" fill="#2a2a2a" stroke="#2a2a2a" stroke-width="0.1" textLength="42" lengthAdjust="spacingAndGlyphs" transform="rotate(-90 171.80 245.65)" >Cytokine level</text>
<text x="182.50" y="245.65" font-size="8.0" text-anchor="middle" fill="#2a2a2a" stroke="#2a2a2a" stroke-width="0.1" textLength="26" lengthAdjust="spacingAndGlyphs" transform="rotate(-90 182.50 245.65)" >(pg/mL)</text>
<text x="252.40" y="203.90" font-size="8.3" text-anchor="middle" fill="#2a2a2a" stroke="#2a2a2a" stroke-width="0.1" textLength="57.5" lengthAdjust="spacingAndGlyphs" >CD200R-CD28</text>
<text x="251.90" y="214.20" font-size="8.3" text-anchor="middle" fill="#2a2a2a" stroke="#2a2a2a" stroke-width="0.1" textLength="52.2" lengthAdjust="spacingAndGlyphs" >BCMA CAR-T</text>
<polyline points="215.50,269.30 235.59,229.09 250.65,232.64 265.71,232.64 285.80,252.75" fill="none" stroke="#d6246e" stroke-width="0.7" />
<circle cx="215.50" cy="269.30" r="0.9" fill="#d6246e" />
<circle cx="235.59" cy="229.09" r="0.9" fill="#d6246e" />
<circle cx="250.65" cy="232.64" r="0.9" fill="#d6246e" />
<circle cx="265.71" cy="232.64" r="0.9" fill="#d6246e" />
<circle cx="285.80" cy="252.75" r="0.9" fill="#d6246e" />
<polyline points="215.50,269.30 235.59,231.46 250.65,233.82 265.71,233.82 285.80,246.83" fill="none" stroke="#f0a050" stroke-width="0.7" />
<circle cx="215.50" cy="269.30" r="0.9" fill="#f0a050" />
<circle cx="235.59" cy="231.46" r="0.9" fill="#f0a050" />
<circle cx="250.65" cy="233.82" r="0.9" fill="#f0a050" />
<circle cx="265.71" cy="233.82" r="0.9" fill="#f0a050" />
<circle cx="285.80" cy="246.83" r="0.9" fill="#f0a050" />
<polyline points="215.50,269.30 235.59,235.01 250.65,235.01 265.71,232.64 285.80,240.92" fill="none" stroke="#2a9a8a" stroke-width="0.7" />
<circle cx="215.50" cy="269.30" r="0.9" fill="#2a9a8a" />
<circle cx="235.59" cy="235.01" r="0.9" fill="#2a9a8a" />
<circle cx="250.65" cy="235.01" r="0.9" fill="#2a9a8a" />
<circle cx="265.71" cy="232.64" r="0.9" fill="#2a9a8a" />
<circle cx="285.80" cy="240.92" r="0.9" fill="#2a9a8a" />
<polyline points="215.50,269.30 235.59,230.28 250.65,230.28 265.71,232.64 285.80,251.56" fill="none" stroke="#5a5a2a" stroke-width="0.7" />
<circle cx="215.50" cy="269.30" r="0.9" fill="#5a5a2a" />
<circle cx="235.59" cy="230.28" r="0.9" fill="#5a5a2a" />
<circle cx="250.65" cy="230.28" r="0.9" fill="#5a5a2a" />
<circle cx="265.71" cy="232.64" r="0.9" fill="#5a5a2a" />
<circle cx="285.80" cy="251.56" r="0.9" fill="#5a5a2a" />
<polyline points="215.50,269.30 235.59,235.60 250.65,236.19 265.71,242.10 285.80,250.38" fill="none" stroke="#4cb848" stroke-width="0.7" />
<circle cx="215.50" cy="269.30" r="0.9" fill="#4cb848" />
<circle cx="235.59" cy="235.60" r="0.9" fill="#4cb848" />
<circle cx="250.65" cy="236.19" r="0.9" fill="#4cb848" />
<circle cx="265.71" cy="242.10" r="0.9" fill="#4cb848" />
<circle cx="285.80" cy="250.38" r="0.9" fill="#4cb848" />
<polyline points="215.50,269.30 235.59,232.64 250.65,248.02 265.71,242.10 285.80,257.48" fill="none" stroke="#b5173a" stroke-width="0.7" />
<circle cx="215.50" cy="269.30" r="0.9" fill="#b5173a" />
<circle cx="235.59" cy="232.64" r="0.9" fill="#b5173a" />
<circle cx="250.65" cy="248.02" r="0.9" fill="#b5173a" />
<circle cx="265.71" cy="242.10" r="0.9" fill="#b5173a" />
<circle cx="285.80" cy="257.48" r="0.9" fill="#b5173a" />
<polyline points="215.50,269.30 235.59,236.19 250.65,235.01 265.71,235.01 285.80,245.65" fill="none" stroke="#8b1030" stroke-width="0.7" />
<circle cx="215.50" cy="269.30" r="0.9" fill="#8b1030" />
<circle cx="235.59" cy="236.19" r="0.9" fill="#8b1030" />
<circle cx="250.65" cy="235.01" r="0.9" fill="#8b1030" />
<circle cx="265.71" cy="235.01" r="0.9" fill="#8b1030" />
<circle cx="285.80" cy="245.65" r="0.9" fill="#8b1030" />
<polyline points="215.50,269.30 235.59,247.42 250.65,258.66 265.71,263.98" fill="none" stroke="#e0609a" stroke-width="0.7" />
<circle cx="215.50" cy="269.30" r="0.9" fill="#e0609a" />
<circle cx="235.59" cy="247.42" r="0.9" fill="#e0609a" />
<circle cx="250.65" cy="258.66" r="0.9" fill="#e0609a" />
<circle cx="265.71" cy="263.98" r="0.9" fill="#e0609a" />
<polyline points="215.50,269.30 235.59,265.75 250.65,259.25 263.20,269.30" fill="none" stroke="#3a4a6a" stroke-width="0.7" />
<circle cx="215.50" cy="269.30" r="0.9" fill="#3a4a6a" />
<circle cx="235.59" cy="265.75" r="0.9" fill="#3a4a6a" />
<circle cx="250.65" cy="259.25" r="0.9" fill="#3a4a6a" />
<circle cx="263.20" cy="269.30" r="0.9" fill="#3a4a6a" />
<polyline points="215.50,269.30 235.59,231.46 250.65,236.19 265.71,237.37 285.80,257.48" fill="none" stroke="#7a3a8a" stroke-width="0.7" />
<circle cx="215.50" cy="269.30" r="0.9" fill="#7a3a8a" />
<circle cx="235.59" cy="231.46" r="0.9" fill="#7a3a8a" />
<circle cx="250.65" cy="236.19" r="0.9" fill="#7a3a8a" />
<circle cx="265.71" cy="237.37" r="0.9" fill="#7a3a8a" />
<circle cx="285.80" cy="257.48" r="0.9" fill="#7a3a8a" />
<line x1="67.80" y1="329.30" x2="67.80" y2="378.30" stroke="#222" stroke-width="0.9" />
<line x1="67.40" y1="377.90" x2="141.00" y2="377.90" stroke="#222" stroke-width="0.9" />
<line x1="63.40" y1="377.90" x2="67.80" y2="377.90" stroke="#222" stroke-width="0.7" />
<text x="61.20" y="380.20" font-size="6.6" text-anchor="end" fill="#2a2a2a" stroke="#2a2a2a" stroke-width="0.1" textLength="6.64" lengthAdjust="spacingAndGlyphs" >10</text>
<line x1="63.40" y1="366.05" x2="67.80" y2="366.05" stroke="#222" stroke-width="0.7" />
<text x="61.20" y="368.35" font-size="6.6" text-anchor="end" fill="#2a2a2a" stroke="#2a2a2a" stroke-width="0.1" textLength="9.959999999999999" lengthAdjust="spacingAndGlyphs" >100</text>
<line x1="63.40" y1="354.20" x2="67.80" y2="354.20" stroke="#222" stroke-width="0.7" />
<text x="61.20" y="356.50" font-size="6.6" text-anchor="end" fill="#2a2a2a" stroke="#2a2a2a" stroke-width="0.1" textLength="13.28" lengthAdjust="spacingAndGlyphs" >1000</text>
<line x1="63.40" y1="342.35" x2="67.80" y2="342.35" stroke="#222" stroke-width="0.7" />
<text x="61.20" y="344.65" font-size="6.6" text-anchor="end" fill="#2a2a2a" stroke="#2a2a2a" stroke-width="0.1" textLength="16.599999999999998" lengthAdjust="spacingAndGlyphs" >10000</text>
<line x1="63.40" y1="330.50" x2="67.80" y2="330.50" stroke="#222" stroke-width="0.7" />
<text x="61.20" y="332.80" font-size="6.6" text-anchor="end" fill="#2a2a2a" stroke="#2a2a2a" stroke-width="0.1" textLength="19.919999999999998" lengthAdjust="spacingAndGlyphs" >100000</text>
<line x1="67.80" y1="377.90" x2="67.80" y2="380.10" stroke="#222" stroke-width="0.7" />
<text x="67.80" y="389.40" font-size="6.6" text-anchor="middle" fill="#2a2a2a" stroke="#2a2a2a" stroke-width="0.1" textLength="3.6" lengthAdjust="spacingAndGlyphs" >0</text>
<line x1="77.94" y1="377.90" x2="77.94" y2="380.10" stroke="#222" stroke-width="0.7" />
<text x="77.94" y="389.40" font-size="6.6" text-anchor="middle" fill="#2a2a2a" stroke="#2a2a2a" stroke-width="0.1" textLength="3.6" lengthAdjust="spacingAndGlyphs" >2</text>
<line x1="88.09" y1="377.90" x2="88.09" y2="380.10" stroke="#222" stroke-width="0.7" />
<text x="88.09" y="389.40" font-size="6.6" text-anchor="middle" fill="#2a2a2a" stroke="#2a2a2a" stroke-width="0.1" textLength="3.6" lengthAdjust="spacingAndGlyphs" >4</text>
<line x1="98.23" y1="377.90" x2="98.23" y2="380.10" stroke="#222" stroke-width="0.7" />
<text x="98.23" y="389.40" font-size="6.6" text-anchor="middle" fill="#2a2a2a" stroke="#2a2a2a" stroke-width="0.1" textLength="3.6" lengthAdjust="spacingAndGlyphs" >6</text>
<line x1="108.37" y1="377.90" x2="108.37" y2="380.10" stroke="#222" stroke-width="0.7" />
<text x="108.37" y="389.40" font-size="6.6" text-anchor="middle" fill="#2a2a2a" stroke="#2a2a2a" stroke-width="0.1" textLength="3.6" lengthAdjust="spacingAndGlyphs" >8</text>
<line x1="118.51" y1="377.90" x2="118.51" y2="380.10" stroke="#222" stroke-width="0.7" />
<text x="118.51" y="389.40" font-size="6.6" text-anchor="middle" fill="#2a2a2a" stroke="#2a2a2a" stroke-width="0.1" textLength="8.6" lengthAdjust="spacingAndGlyphs" >10</text>
<line x1="128.66" y1="377.90" x2="128.66" y2="380.10" stroke="#222" stroke-width="0.7" />
<text x="128.66" y="389.40" font-size="6.6" text-anchor="middle" fill="#2a2a2a" stroke="#2a2a2a" stroke-width="0.1" textLength="8.6" lengthAdjust="spacingAndGlyphs" >12</text>
<line x1="138.80" y1="377.90" x2="138.80" y2="380.10" stroke="#222" stroke-width="0.7" />
<text x="138.80" y="389.40" font-size="6.6" text-anchor="middle" fill="#2a2a2a" stroke="#2a2a2a" stroke-width="0.1" textLength="8.6" lengthAdjust="spacingAndGlyphs" >14</text>
<text x="104.80" y="401.20" font-size="8.6" text-anchor="middle" fill="#2a2a2a" stroke="#2a2a2a" stroke-width="0.1" textLength="11.8" lengthAdjust="spacingAndGlyphs" >Day</text>
<text x="24.10" y="354.20" font-size="8.0" text-anchor="middle" fill="#2a2a2a" stroke="#2a2a2a" stroke-width="0.1" textLength="42" lengthAdjust="spacingAndGlyphs" transform="rotate(-90 24.10 354.20)" >Cytokine level</text>
<text x="34.80" y="354.20" font-size="8.0" text-anchor="middle" fill="#2a2a2a" stroke="#2a2a2a" stroke-width="0.1" textLength="26" lengthAdjust="spacingAndGlyphs" transform="rotate(-90 34.80 354.20)" >(pg/mL)</text>
<text x="104.50" y="316.80" font-size="8.3" text-anchor="middle" fill="#2a2a2a" stroke="#2a2a2a" stroke-width="0.1" textLength="101" lengthAdjust="spacingAndGlyphs" >CD200RDN BCMA CAR-T</text>
<polyline points="67.80,377.90 88.09,347.09 103.30,351.24 118.51,355.38 138.80,358.94" fill="none" stroke="#5a5a2a" stroke-width="0.7" />
<circle cx="67.80" cy="377.90" r="0.9" fill="#5a5a2a" />
<circle cx="88.09" cy="347.09" r="0.9" fill="#5a5a2a" />
<circle cx="103.30" cy="351.24" r="0.9" fill="#5a5a2a" />
<circle cx="118.51" cy="355.38" r="0.9" fill="#5a5a2a" />
<circle cx="138.80" cy="358.94" r="0.9" fill="#5a5a2a" />
<polyline points="67.80,377.90 88.09,348.27 103.30,358.94 118.51,363.68 138.80,351.83" fill="none" stroke="#2a9a8a" stroke-width="0.7" />
<circle cx="67.80" cy="377.90" r="0.9" fill="#2a9a8a" />
<circle cx="88.09" cy="348.27" r="0.9" fill="#2a9a8a" />
<circle cx="103.30" cy="358.94" r="0.9" fill="#2a9a8a" />
<circle cx="118.51" cy="363.68" r="0.9" fill="#2a9a8a" />
<circle cx="138.80" cy="351.83" r="0.9" fill="#2a9a8a" />
<polyline points="67.80,377.90 88.09,354.20 103.30,361.31 118.51,351.83 138.80,354.20" fill="none" stroke="#f0a050" stroke-width="0.7" />
<circle cx="67.80" cy="377.90" r="0.9" fill="#f0a050" />
<circle cx="88.09" cy="354.20" r="0.9" fill="#f0a050" />
<circle cx="103.30" cy="361.31" r="0.9" fill="#f0a050" />
<circle cx="118.51" cy="351.83" r="0.9" fill="#f0a050" />
<circle cx="138.80" cy="354.20" r="0.9" fill="#f0a050" />
<polyline points="67.80,377.90 88.09,348.87 103.30,362.50 118.51,363.68 138.80,370.20" fill="none" stroke="#d6246e" stroke-width="0.7" />
<circle cx="67.80" cy="377.90" r="0.9" fill="#d6246e" />
<circle cx="88.09" cy="348.87" r="0.9" fill="#d6246e" />
<circle cx="103.30" cy="362.50" r="0.9" fill="#d6246e" />
<circle cx="118.51" cy="363.68" r="0.9" fill="#d6246e" />
<circle cx="138.80" cy="370.20" r="0.9" fill="#d6246e" />
<polyline points="67.80,377.90 88.09,350.64 103.30,363.09 118.51,360.72 138.80,360.12" fill="none" stroke="#b5173a" stroke-width="0.7" />
<circle cx="67.80" cy="377.90" r="0.9" fill="#b5173a" />
<circle cx="88.09" cy="350.64" r="0.9" fill="#b5173a" />
<circle cx="103.30" cy="363.09" r="0.9" fill="#b5173a" />
<circle cx="118.51" cy="360.72" r="0.9" fill="#b5173a" />
<circle cx="138.80" cy="360.12" r="0.9" fill="#b5173a" />
<polyline points="67.80,377.90 88.09,347.09 103.30,357.75 118.51,361.31 138.80,367.23" fill="none" stroke="#7a3a8a" stroke-width="0.7" />
<circle cx="67.80" cy="377.90" r="0.9" fill="#7a3a8a" />
<circle cx="88.09" cy="347.09" r="0.9" fill="#7a3a8a" />
<circle cx="103.30" cy="357.75" r="0.9" fill="#7a3a8a" />
<circle cx="118.51" cy="361.31" r="0.9" fill="#7a3a8a" />
<circle cx="138.80" cy="367.23" r="0.9" fill="#7a3a8a" />
<polyline points="67.80,377.90 88.09,354.20 103.30,361.90 118.51,363.09 138.80,363.09" fill="none" stroke="#4cb848" stroke-width="0.7" />
<circle cx="67.80" cy="377.90" r="0.9" fill="#4cb848" />
<circle cx="88.09" cy="354.20" r="0.9" fill="#4cb848" />
<circle cx="103.30" cy="361.90" r="0.9" fill="#4cb848" />
<circle cx="118.51" cy="363.09" r="0.9" fill="#4cb848" />
<circle cx="138.80" cy="363.09" r="0.9" fill="#4cb848" />
<polyline points="67.80,377.90 88.09,351.83 103.30,361.31 118.51,359.53 138.80,366.05" fill="none" stroke="#8b1030" stroke-width="0.7" />
<circle cx="67.80" cy="377.90" r="0.9" fill="#8b1030" />
<circle cx="88.09" cy="351.83" r="0.9" fill="#8b1030" />
<circle cx="103.30" cy="361.31" r="0.9" fill="#8b1030" />
<circle cx="118.51" cy="359.53" r="0.9" fill="#8b1030" />
<circle cx="138.80" cy="366.05" r="0.9" fill="#8b1030" />
<polyline points="67.80,377.90 88.09,376.95 103.30,376.71" fill="none" stroke="#e0609a" stroke-width="0.7" />
<circle cx="67.80" cy="377.90" r="0.9" fill="#e0609a" />
<circle cx="88.09" cy="376.95" r="0.9" fill="#e0609a" />
<circle cx="103.30" cy="376.71" r="0.9" fill="#e0609a" />
<polyline points="67.80,377.90 138.80,377.90" fill="none" stroke="#3a4a6a" stroke-width="0.7" />
<circle cx="67.80" cy="377.90" r="0.9" fill="#3a4a6a" />
<circle cx="138.80" cy="377.90" r="0.9" fill="#3a4a6a" />
<line x1="215.50" y1="328.80" x2="215.50" y2="378.00" stroke="#222" stroke-width="0.9" />
<line x1="215.10" y1="377.60" x2="288.40" y2="377.60" stroke="#222" stroke-width="0.9" />
<line x1="211.10" y1="377.60" x2="215.50" y2="377.60" stroke="#222" stroke-width="0.7" />
<text x="208.90" y="379.90" font-size="6.6" text-anchor="end" fill="#2a2a2a" stroke="#2a2a2a" stroke-width="0.1" textLength="6.64" lengthAdjust="spacingAndGlyphs" >10</text>
<line x1="211.10" y1="365.70" x2="215.50" y2="365.70" stroke="#222" stroke-width="0.7" />
<text x="208.90" y="368.00" font-size="6.6" text-anchor="end" fill="#2a2a2a" stroke="#2a2a2a" stroke-width="0.1" textLength="9.959999999999999" lengthAdjust="spacingAndGlyphs" >100</text>
<line x1="211.10" y1="353.80" x2="215.50" y2="353.80" stroke="#222" stroke-width="0.7" />
<text x="208.90" y="356.10" font-size="6.6" text-anchor="end" fill="#2a2a2a" stroke="#2a2a2a" stroke-width="0.1" textLength="13.28" lengthAdjust="spacingAndGlyphs" >1000</text>
<line x1="211.10" y1="341.90" x2="215.50" y2="341.90" stroke="#222" stroke-width="0.7" />
<text x="208.90" y="344.20" font-size="6.6" text-anchor="end" fill="#2a2a2a" stroke="#2a2a2a" stroke-width="0.1" textLength="16.599999999999998" lengthAdjust="spacingAndGlyphs" >10000</text>
<line x1="211.10" y1="330.00" x2="215.50" y2="330.00" stroke="#222" stroke-width="0.7" />
<text x="208.90" y="332.30" font-size="6.6" text-anchor="end" fill="#2a2a2a" stroke="#2a2a2a" stroke-width="0.1" textLength="19.919999999999998" lengthAdjust="spacingAndGlyphs" >100000</text>
<line x1="215.50" y1="377.60" x2="215.50" y2="379.80" stroke="#222" stroke-width="0.7" />
<text x="215.50" y="389.10" font-size="6.6" text-anchor="middle" fill="#2a2a2a" stroke="#2a2a2a" stroke-width="0.1" textLength="3.6" lengthAdjust="spacingAndGlyphs" >0</text>
<line x1="225.60" y1="377.60" x2="225.60" y2="379.80" stroke="#222" stroke-width="0.7" />
<text x="225.60" y="389.10" font-size="6.6" text-anchor="middle" fill="#2a2a2a" stroke="#2a2a2a" stroke-width="0.1" textLength="3.6" lengthAdjust="spacingAndGlyphs" >2</text>
<line x1="235.70" y1="377.60" x2="235.70" y2="379.80" stroke="#222" stroke-width="0.7" />
<text x="235.70" y="389.10" font-size="6.6" text-anchor="middle" fill="#2a2a2a" stroke="#2a2a2a" stroke-width="0.1" textLength="3.6" lengthAdjust="spacingAndGlyphs" >4</text>
<line x1="245.80" y1="377.60" x2="245.80" y2="379.80" stroke="#222" stroke-width="0.7" />
<text x="245.80" y="389.10" font-size="6.6" text-anchor="middle" fill="#2a2a2a" stroke="#2a2a2a" stroke-width="0.1" textLength="3.6" lengthAdjust="spacingAndGlyphs" >6</text>
<line x1="255.90" y1="377.60" x2="255.90" y2="379.80" stroke="#222" stroke-width="0.7" />
<text x="255.90" y="389.10" font-size="6.6" text-anchor="middle" fill="#2a2a2a" stroke="#2a2a2a" stroke-width="0.1" textLength="3.6" lengthAdjust="spacingAndGlyphs" >8</text>
<line x1="266.00" y1="377.60" x2="266.00" y2="379.80" stroke="#222" stroke-width="0.7" />
<text x="266.00" y="389.10" font-size="6.6" text-anchor="middle" fill="#2a2a2a" stroke="#2a2a2a" stroke-width="0.1" textLength="8.6" lengthAdjust="spacingAndGlyphs" >10</text>
<line x1="276.10" y1="377.60" x2="276.10" y2="379.80" stroke="#222" stroke-width="0.7" />
<text x="276.10" y="389.10" font-size="6.6" text-anchor="middle" fill="#2a2a2a" stroke="#2a2a2a" stroke-width="0.1" textLength="8.6" lengthAdjust="spacingAndGlyphs" >12</text>
<line x1="286.20" y1="377.60" x2="286.20" y2="379.80" stroke="#222" stroke-width="0.7" />
<text x="286.20" y="389.10" font-size="6.6" text-anchor="middle" fill="#2a2a2a" stroke="#2a2a2a" stroke-width="0.1" textLength="8.6" lengthAdjust="spacingAndGlyphs" >14</text>
<text x="252.35" y="400.90" font-size="8.6" text-anchor="middle" fill="#2a2a2a" stroke="#2a2a2a" stroke-width="0.1" textLength="11.8" lengthAdjust="spacingAndGlyphs" >Day</text>
<text x="171.80" y="353.80" font-size="8.0" text-anchor="middle" fill="#2a2a2a" stroke="#2a2a2a" stroke-width="0.1" textLength="42" lengthAdjust="spacingAndGlyphs" transform="rotate(-90 171.80 353.80)" >Cytokine level</text>
<text x="182.50" y="353.80" font-size="8.0" text-anchor="middle" fill="#2a2a2a" stroke="#2a2a2a" stroke-width="0.1" textLength="26" lengthAdjust="spacingAndGlyphs" transform="rotate(-90 182.50 353.80)" >(pg/mL)</text>
<text x="252.00" y="311.90" font-size="8.3" text-anchor="middle" fill="#2a2a2a" stroke="#2a2a2a" stroke-width="0.1" textLength="44.4" lengthAdjust="spacingAndGlyphs" >CD200RKO</text>
<text x="251.90" y="322.20" font-size="8.3" text-anchor="middle" fill="#2a2a2a" stroke="#2a2a2a" stroke-width="0.1" textLength="52.2" lengthAdjust="spacingAndGlyphs" >BCMA CAR-T</text>
<polyline points="215.50,377.60 235.70,350.23 250.85,349.63 266.00,352.61 286.20,352.61" fill="none" stroke="#2a9a8a" stroke-width="0.7" />
<circle cx="215.50" cy="377.60" r="0.9" fill="#2a9a8a" />
<circle cx="235.70" cy="350.23" r="0.9" fill="#2a9a8a" />
<circle cx="250.85" cy="349.63" r="0.9" fill="#2a9a8a" />
<circle cx="266.00" cy="352.61" r="0.9" fill="#2a9a8a" />
<circle cx="286.20" cy="352.61" r="0.9" fill="#2a9a8a" />
<polyline points="215.50,377.60 235.70,353.80 250.85,349.04 266.00,353.21 286.20,369.27" fill="none" stroke="#5a5a2a" stroke-width="0.7" />
<circle cx="215.50" cy="377.60" r="0.9" fill="#5a5a2a" />
<circle cx="235.70" cy="353.80" r="0.9" fill="#5a5a2a" />
<circle cx="250.85" cy="349.04" r="0.9" fill="#5a5a2a" />
<circle cx="266.00" cy="353.21" r="0.9" fill="#5a5a2a" />
<circle cx="286.20" cy="369.27" r="0.9" fill="#5a5a2a" />
<polyline points="215.50,377.60 235.70,357.37 250.85,349.63 266.00,354.39 286.20,362.73" fill="none" stroke="#f0a050" stroke-width="0.7" />
<circle cx="215.50" cy="377.60" r="0.9" fill="#f0a050" />
<circle cx="235.70" cy="357.37" r="0.9" fill="#f0a050" />
<circle cx="250.85" cy="349.63" r="0.9" fill="#f0a050" />
<circle cx="266.00" cy="354.39" r="0.9" fill="#f0a050" />
<circle cx="286.20" cy="362.73" r="0.9" fill="#f0a050" />
<polyline points="215.50,377.60 235.70,352.61 250.85,357.37 266.00,359.75 286.20,377.60" fill="none" stroke="#d6246e" stroke-width="0.7" />
<circle cx="215.50" cy="377.60" r="0.9" fill="#d6246e" />
<circle cx="235.70" cy="352.61" r="0.9" fill="#d6246e" />
<circle cx="250.85" cy="357.37" r="0.9" fill="#d6246e" />
<circle cx="266.00" cy="359.75" r="0.9" fill="#d6246e" />
<circle cx="286.20" cy="377.60" r="0.9" fill="#d6246e" />
<polyline points="215.50,377.60 235.70,353.21 250.85,364.51 266.00,372.84 286.20,362.13" fill="none" stroke="#b5173a" stroke-width="0.7" />
<circle cx="215.50" cy="377.60" r="0.9" fill="#b5173a" />
<circle cx="235.70" cy="353.21" r="0.9" fill="#b5173a" />
<circle cx="250.85" cy="364.51" r="0.9" fill="#b5173a" />
<circle cx="266.00" cy="372.84" r="0.9" fill="#b5173a" />
<circle cx="286.20" cy="362.13" r="0.9" fill="#b5173a" />
<polyline points="215.50,377.60 235.70,353.80 250.85,357.97 266.00,359.75 286.20,365.70" fill="none" stroke="#7a3a8a" stroke-width="0.7" />
<circle cx="215.50" cy="377.60" r="0.9" fill="#7a3a8a" />
<circle cx="235.70" cy="353.80" r="0.9" fill="#7a3a8a" />
<circle cx="250.85" cy="357.97" r="0.9" fill="#7a3a8a" />
<circle cx="266.00" cy="359.75" r="0.9" fill="#7a3a8a" />
<circle cx="286.20" cy="365.70" r="0.9" fill="#7a3a8a" />
<polyline points="215.50,377.60 235.70,354.99 250.85,360.94 266.00,369.27 286.20,365.70" fill="none" stroke="#4cb848" stroke-width="0.7" />
<circle cx="215.50" cy="377.60" r="0.9" fill="#4cb848" />
<circle cx="235.70" cy="354.99" r="0.9" fill="#4cb848" />
<circle cx="250.85" cy="360.94" r="0.9" fill="#4cb848" />
<circle cx="266.00" cy="369.27" r="0.9" fill="#4cb848" />
<circle cx="286.20" cy="365.70" r="0.9" fill="#4cb848" />
<polyline points="215.50,377.60 235.70,358.56 250.85,360.94 266.00,362.13 286.20,363.32" fill="none" stroke="#8b1030" stroke-width="0.7" />
<circle cx="215.50" cy="377.60" r="0.9" fill="#8b1030" />
<circle cx="235.70" cy="358.56" r="0.9" fill="#8b1030" />
<circle cx="250.85" cy="360.94" r="0.9" fill="#8b1030" />
<circle cx="266.00" cy="362.13" r="0.9" fill="#8b1030" />
<circle cx="286.20" cy="363.32" r="0.9" fill="#8b1030" />
<polyline points="215.50,377.60 235.70,372.84 250.85,376.41" fill="none" stroke="#e0609a" stroke-width="0.7" />
<circle cx="215.50" cy="377.60" r="0.9" fill="#e0609a" />
<circle cx="235.70" cy="372.84" r="0.9" fill="#e0609a" />
<circle cx="250.85" cy="376.41" r="0.9" fill="#e0609a" />
<polyline points="215.50,377.60 235.70,376.41 250.85,377.60" fill="none" stroke="#3a4a6a" stroke-width="0.7" />
<circle cx="215.50" cy="377.60" r="0.9" fill="#3a4a6a" />
<circle cx="235.70" cy="376.41" r="0.9" fill="#3a4a6a" />
<circle cx="250.85" cy="377.60" r="0.9" fill="#3a4a6a" />
<line x1="124.40" y1="427.10" x2="124.40" y2="477.20" stroke="#222" stroke-width="0.9" />
<line x1="124.00" y1="476.80" x2="196.80" y2="476.80" stroke="#222" stroke-width="0.9" />
<line x1="120.00" y1="476.80" x2="124.40" y2="476.80" stroke="#222" stroke-width="0.7" />
<text x="117.80" y="479.10" font-size="6.6" text-anchor="end" fill="#2a2a2a" stroke="#2a2a2a" stroke-width="0.1" textLength="6.64" lengthAdjust="spacingAndGlyphs" >10</text>
<line x1="120.00" y1="464.68" x2="124.40" y2="464.68" stroke="#222" stroke-width="0.7" />
<text x="117.80" y="466.98" font-size="6.6" text-anchor="end" fill="#2a2a2a" stroke="#2a2a2a" stroke-width="0.1" textLength="9.959999999999999" lengthAdjust="spacingAndGlyphs" >100</text>
<line x1="120.00" y1="452.55" x2="124.40" y2="452.55" stroke="#222" stroke-width="0.7" />
<text x="117.80" y="454.85" font-size="6.6" text-anchor="end" fill="#2a2a2a" stroke="#2a2a2a" stroke-width="0.1" textLength="13.28" lengthAdjust="spacingAndGlyphs" >1000</text>
<line x1="120.00" y1="440.43" x2="124.40" y2="440.43" stroke="#222" stroke-width="0.7" />
<text x="117.80" y="442.73" font-size="6.6" text-anchor="end" fill="#2a2a2a" stroke="#2a2a2a" stroke-width="0.1" textLength="16.599999999999998" lengthAdjust="spacingAndGlyphs" >10000</text>
<line x1="120.00" y1="428.30" x2="124.40" y2="428.30" stroke="#222" stroke-width="0.7" />
<text x="117.80" y="430.60" font-size="6.6" text-anchor="end" fill="#2a2a2a" stroke="#2a2a2a" stroke-width="0.1" textLength="19.919999999999998" lengthAdjust="spacingAndGlyphs" >100000</text>
<line x1="124.40" y1="476.80" x2="124.40" y2="479.00" stroke="#222" stroke-width="0.7" />
<text x="124.40" y="488.30" font-size="6.6" text-anchor="middle" fill="#2a2a2a" stroke="#2a2a2a" stroke-width="0.1" textLength="3.6" lengthAdjust="spacingAndGlyphs" >0</text>
<line x1="138.44" y1="476.80" x2="138.44" y2="479.00" stroke="#222" stroke-width="0.7" />
<text x="138.44" y="488.30" font-size="6.6" text-anchor="middle" fill="#2a2a2a" stroke="#2a2a2a" stroke-width="0.1" textLength="3.6" lengthAdjust="spacingAndGlyphs" >2</text>
<line x1="152.48" y1="476.80" x2="152.48" y2="479.00" stroke="#222" stroke-width="0.7" />
<text x="152.48" y="488.30" font-size="6.6" text-anchor="middle" fill="#2a2a2a" stroke="#2a2a2a" stroke-width="0.1" textLength="3.6" lengthAdjust="spacingAndGlyphs" >4</text>
<line x1="166.52" y1="476.80" x2="166.52" y2="479.00" stroke="#222" stroke-width="0.7" />
<text x="166.52" y="488.30" font-size="6.6" text-anchor="middle" fill="#2a2a2a" stroke="#2a2a2a" stroke-width="0.1" textLength="3.6" lengthAdjust="spacingAndGlyphs" >6</text>
<line x1="180.56" y1="476.80" x2="180.56" y2="479.00" stroke="#222" stroke-width="0.7" />
<text x="180.56" y="488.30" font-size="6.6" text-anchor="middle" fill="#2a2a2a" stroke="#2a2a2a" stroke-width="0.1" textLength="3.6" lengthAdjust="spacingAndGlyphs" >8</text>
<line x1="194.60" y1="476.80" x2="194.60" y2="479.00" stroke="#222" stroke-width="0.7" />
<text x="194.60" y="488.30" font-size="6.6" text-anchor="middle" fill="#2a2a2a" stroke="#2a2a2a" stroke-width="0.1" textLength="8.6" lengthAdjust="spacingAndGlyphs" >10</text>
<text x="161.00" y="500.10" font-size="8.6" text-anchor="middle" fill="#2a2a2a" stroke="#2a2a2a" stroke-width="0.1" textLength="11.8" lengthAdjust="spacingAndGlyphs" >Day</text>
<text x="80.70" y="452.55" font-size="8.0" text-anchor="middle" fill="#2a2a2a" stroke="#2a2a2a" stroke-width="0.1" textLength="42" lengthAdjust="spacingAndGlyphs" transform="rotate(-90 80.70 452.55)" >Cytokine level</text>
<text x="91.40" y="452.55" font-size="8.0" text-anchor="middle" fill="#2a2a2a" stroke="#2a2a2a" stroke-width="0.1" textLength="26" lengthAdjust="spacingAndGlyphs" transform="rotate(-90 91.40 452.55)" >(pg/mL)</text>
<text x="160.90" y="420.60" font-size="8.3" text-anchor="middle" fill="#2a2a2a" stroke="#2a2a2a" stroke-width="0.1" textLength="16.8" lengthAdjust="spacingAndGlyphs" >UTD</text>
<polyline points="124.40,476.80 152.48,457.40 173.54,476.80 194.60,462.25" fill="none" stroke="#b5173a" stroke-width="0.7" />
<circle cx="124.40" cy="476.80" r="0.9" fill="#b5173a" />
<circle cx="152.48" cy="457.40" r="0.9" fill="#b5173a" />
<circle cx="173.54" cy="476.80" r="0.9" fill="#b5173a" />
<circle cx="194.60" cy="462.25" r="0.9" fill="#b5173a" />
<polyline points="124.40,476.80 152.48,464.68 170.03,476.80 194.60,457.40" fill="none" stroke="#5a5a2a" stroke-width="0.7" />
<circle cx="124.40" cy="476.80" r="0.9" fill="#5a5a2a" />
<circle cx="152.48" cy="464.68" r="0.9" fill="#5a5a2a" />
<circle cx="170.03" cy="476.80" r="0.9" fill="#5a5a2a" />
<circle cx="194.60" cy="457.40" r="0.9" fill="#5a5a2a" />
<polyline points="124.40,476.80 152.48,464.68 194.60,469.53" fill="none" stroke="#d6246e" stroke-width="0.7" />
<circle cx="124.40" cy="476.80" r="0.9" fill="#d6246e" />
<circle cx="152.48" cy="464.68" r="0.9" fill="#d6246e" />
<circle cx="194.60" cy="469.53" r="0.9" fill="#d6246e" />
<polyline points="124.40,476.80 152.48,474.98 172.14,474.38 173.54,471.34" fill="none" stroke="#4cb848" stroke-width="0.7" />
<circle cx="124.40" cy="476.80" r="0.9" fill="#4cb848" />
<circle cx="152.48" cy="474.98" r="0.9" fill="#4cb848" />
<circle cx="172.14" cy="474.38" r="0.9" fill="#4cb848" />
<circle cx="173.54" cy="471.34" r="0.9" fill="#4cb848" />
<polyline points="124.40,476.80 152.48,476.19 173.54,476.80" fill="none" stroke="#3aa07a" stroke-width="0.7" />
<circle cx="124.40" cy="476.80" r="0.9" fill="#3aa07a" />
<circle cx="152.48" cy="476.19" r="0.9" fill="#3aa07a" />
<circle cx="173.54" cy="476.80" r="0.9" fill="#3aa07a" />
<line x1="221.70" y1="424.80" x2="226.50" y2="424.80" stroke="#b5173a" stroke-width="0.8" />
<circle cx="224.10" cy="424.80" r="0.9" fill="#b5173a" />
<text x="229.40" y="426.90" font-size="6.2" text-anchor="start" fill="#4a4a4a" stroke="#4a4a4a" stroke-width="0.1" >Perforin</text>
<line x1="221.70" y1="431.41" x2="226.50" y2="431.41" stroke="#5a5a2a" stroke-width="0.8" />
<circle cx="224.10" cy="431.41" r="0.9" fill="#5a5a2a" />
<text x="229.40" y="433.51" font-size="6.2" text-anchor="start" fill="#4a4a4a" stroke="#4a4a4a" stroke-width="0.1" >Granzyme B</text>
<line x1="221.70" y1="438.02" x2="226.50" y2="438.02" stroke="#2a9d8f" stroke-width="0.8" />
<circle cx="224.10" cy="438.02" r="0.9" fill="#2a9d8f" />
<text x="229.40" y="440.12" font-size="6.2" text-anchor="start" fill="#4a4a4a" stroke="#4a4a4a" stroke-width="0.1" >IFN-γ</text>
<line x1="221.70" y1="444.63" x2="226.50" y2="444.63" stroke="#3a4a6a" stroke-width="0.8" />
<circle cx="224.10" cy="444.63" r="0.9" fill="#3a4a6a" />
<text x="229.40" y="446.73" font-size="6.2" text-anchor="start" fill="#4a4a4a" stroke="#4a4a4a" stroke-width="0.1" >TNF-α</text>
<line x1="221.70" y1="451.24" x2="226.50" y2="451.24" stroke="#8a4a5a" stroke-width="0.8" />
<circle cx="224.10" cy="451.24" r="0.9" fill="#8a4a5a" />
<text x="229.40" y="453.34" font-size="6.2" text-anchor="start" fill="#4a4a4a" stroke="#4a4a4a" stroke-width="0.1" >GM-CSF</text>
<line x1="221.70" y1="457.85" x2="226.50" y2="457.85" stroke="#8b1030" stroke-width="0.8" />
<circle cx="224.10" cy="457.85" r="0.9" fill="#8b1030" />
<text x="229.40" y="459.95" font-size="6.2" text-anchor="start" fill="#4a4a4a" stroke="#4a4a4a" stroke-width="0.1" >IL-5</text>
<line x1="221.70" y1="464.46" x2="226.50" y2="464.46" stroke="#e0609a" stroke-width="0.8" />
<circle cx="224.10" cy="464.46" r="0.9" fill="#e0609a" />
<text x="229.40" y="466.56" font-size="6.2" text-anchor="start" fill="#4a4a4a" stroke="#4a4a4a" stroke-width="0.1" >IL-13</text>
<line x1="221.70" y1="471.07" x2="226.50" y2="471.07" stroke="#4a1a3a" stroke-width="0.8" />
<circle cx="224.10" cy="471.07" r="0.9" fill="#4a1a3a" />
<text x="229.40" y="473.17" font-size="6.2" text-anchor="start" fill="#4a4a4a" stroke="#4a4a4a" stroke-width="0.1" >MIP-1α</text>
<line x1="221.70" y1="477.68" x2="226.50" y2="477.68" stroke="#3aa07a" stroke-width="0.8" />
<circle cx="224.10" cy="477.68" r="0.9" fill="#3aa07a" />
<text x="229.40" y="479.78" font-size="6.2" text-anchor="start" fill="#4a4a4a" stroke="#4a4a4a" stroke-width="0.1" >MIP-1β</text>
<text x="16.90" y="522.70" font-size="11.2" text-anchor="start" fill="#111" font-weight="bold" >E</text>
<line x1="46.60" y1="534.50" x2="46.60" y2="586.40" stroke="#222" stroke-width="0.9" />
<line x1="46.20" y1="577.50" x2="123.50" y2="577.50" stroke="#222" stroke-width="0.9" />
<line x1="43.00" y1="585.80" x2="46.60" y2="585.80" stroke="#222" stroke-width="0.7" />
<text x="39.70" y="588.00" font-size="6.4" text-anchor="end" fill="#2a2a2a" stroke="#2a2a2a" stroke-width="0.1" textLength="11.2" lengthAdjust="spacingAndGlyphs" >−20</text>
<line x1="43.00" y1="577.50" x2="46.60" y2="577.50" stroke="#222" stroke-width="0.7" />
<text x="39.70" y="579.70" font-size="6.4" text-anchor="end" fill="#2a2a2a" stroke="#2a2a2a" stroke-width="0.1" textLength="3.4" lengthAdjust="spacingAndGlyphs" >0</text>
<line x1="43.00" y1="569.20" x2="46.60" y2="569.20" stroke="#222" stroke-width="0.7" />
<text x="39.70" y="571.40" font-size="6.4" text-anchor="end" fill="#2a2a2a" stroke="#2a2a2a" stroke-width="0.1" textLength="6.8" lengthAdjust="spacingAndGlyphs" >20</text>
<line x1="43.00" y1="560.90" x2="46.60" y2="560.90" stroke="#222" stroke-width="0.7" />
<text x="39.70" y="563.10" font-size="6.4" text-anchor="end" fill="#2a2a2a" stroke="#2a2a2a" stroke-width="0.1" textLength="6.8" lengthAdjust="spacingAndGlyphs" >40</text>
<line x1="43.00" y1="552.60" x2="46.60" y2="552.60" stroke="#222" stroke-width="0.7" />
<text x="39.70" y="554.80" font-size="6.4" text-anchor="end" fill="#2a2a2a" stroke="#2a2a2a" stroke-width="0.1" textLength="6.8" lengthAdjust="spacingAndGlyphs" >60</text>
<line x1="43.00" y1="544.30" x2="46.60" y2="544.30" stroke="#222" stroke-width="0.7" />
<text x="39.70" y="546.50" font-size="6.4" text-anchor="end" fill="#2a2a2a" stroke="#2a2a2a" stroke-width="0.1" textLength="6.8" lengthAdjust="spacingAndGlyphs" >80</text>
<line x1="43.00" y1="536.00" x2="46.60" y2="536.00" stroke="#222" stroke-width="0.7" />
<text x="39.70" y="538.20" font-size="6.4" text-anchor="end" fill="#2a2a2a" stroke="#2a2a2a" stroke-width="0.1" textLength="10.2" lengthAdjust="spacingAndGlyphs" >100</text>
<line x1="64.92" y1="577.50" x2="64.92" y2="579.70" stroke="#222" stroke-width="0.7" />
<text x="64.92" y="589.40" font-size="6.4" text-anchor="middle" fill="#2a2a2a" stroke="#2a2a2a" stroke-width="0.1" textLength="6.8" lengthAdjust="spacingAndGlyphs" >20</text>
<line x1="83.55" y1="577.50" x2="83.55" y2="579.70" stroke="#222" stroke-width="0.7" />
<text x="83.55" y="589.40" font-size="6.4" text-anchor="middle" fill="#2a2a2a" stroke="#2a2a2a" stroke-width="0.1" textLength="6.8" lengthAdjust="spacingAndGlyphs" >40</text>
<line x1="102.17" y1="577.50" x2="102.17" y2="579.70" stroke="#222" stroke-width="0.7" />
<text x="102.17" y="589.40" font-size="6.4" text-anchor="middle" fill="#2a2a2a" stroke="#2a2a2a" stroke-width="0.1" textLength="6.8" lengthAdjust="spacingAndGlyphs" >60</text>
<line x1="120.80" y1="577.50" x2="120.80" y2="579.70" stroke="#222" stroke-width="0.7" />
<text x="120.80" y="589.40" font-size="6.4" text-anchor="middle" fill="#2a2a2a" stroke="#2a2a2a" stroke-width="0.1" textLength="6.8" lengthAdjust="spacingAndGlyphs" >80</text>
<text x="23.30" y="559.40" font-size="7.6" text-anchor="middle" fill="#2a2a2a" stroke="#2a2a2a" stroke-width="0.1" textLength="49.4" lengthAdjust="spacingAndGlyphs" transform="rotate(-90 23.30 559.40)" >OCR (pmol/min)</text>
<line x1="47.10" y1="569.62" x2="47.10" y2="571.28" stroke="#e5127d" stroke-width="0.6" />
<line x1="45.90" y1="569.62" x2="48.30" y2="569.62" stroke="#e5127d" stroke-width="0.5" />
<line x1="45.90" y1="571.28" x2="48.30" y2="571.28" stroke="#e5127d" stroke-width="0.5" />
<line x1="53.54" y1="570.44" x2="53.54" y2="572.11" stroke="#e5127d" stroke-width="0.6" />
<line x1="52.34" y1="570.44" x2="54.74" y2="570.44" stroke="#e5127d" stroke-width="0.5" />
<line x1="52.34" y1="572.11" x2="54.74" y2="572.11" stroke="#e5127d" stroke-width="0.5" />
<line x1="59.98" y1="570.44" x2="59.98" y2="572.11" stroke="#e5127d" stroke-width="0.6" />
<line x1="58.78" y1="570.44" x2="61.18" y2="570.44" stroke="#e5127d" stroke-width="0.5" />
<line x1="58.78" y1="572.11" x2="61.18" y2="572.11" stroke="#e5127d" stroke-width="0.5" />
<line x1="66.42" y1="575.01" x2="66.42" y2="575.84" stroke="#e5127d" stroke-width="0.6" />
<line x1="65.22" y1="575.01" x2="67.62" y2="575.01" stroke="#e5127d" stroke-width="0.5" />
<line x1="65.22" y1="575.84" x2="67.62" y2="575.84" stroke="#e5127d" stroke-width="0.5" />
<line x1="72.86" y1="575.01" x2="72.86" y2="575.84" stroke="#e5127d" stroke-width="0.6" />
<line x1="71.66" y1="575.01" x2="74.06" y2="575.01" stroke="#e5127d" stroke-width="0.5" />
<line x1="71.66" y1="575.84" x2="74.06" y2="575.84" stroke="#e5127d" stroke-width="0.5" />
<line x1="79.30" y1="575.01" x2="79.30" y2="575.84" stroke="#e5127d" stroke-width="0.6" />
<line x1="78.10" y1="575.01" x2="80.50" y2="575.01" stroke="#e5127d" stroke-width="0.5" />
<line x1="78.10" y1="575.84" x2="80.50" y2="575.84" stroke="#e5127d" stroke-width="0.5" />
<line x1="85.74" y1="561.32" x2="85.74" y2="564.63" stroke="#e5127d" stroke-width="0.6" />
<line x1="84.54" y1="561.32" x2="86.94" y2="561.32" stroke="#e5127d" stroke-width="0.5" />
<line x1="84.54" y1="564.63" x2="86.94" y2="564.63" stroke="#e5127d" stroke-width="0.5" />
<line x1="92.18" y1="565.05" x2="92.18" y2="568.37" stroke="#e5127d" stroke-width="0.6" />
<line x1="90.98" y1="565.05" x2="93.38" y2="565.05" stroke="#e5127d" stroke-width="0.5" />
<line x1="90.98" y1="568.37" x2="93.38" y2="568.37" stroke="#e5127d" stroke-width="0.5" />
<line x1="98.62" y1="567.12" x2="98.62" y2="569.62" stroke="#e5127d" stroke-width="0.6" />
<line x1="97.42" y1="567.12" x2="99.82" y2="567.12" stroke="#e5127d" stroke-width="0.5" />
<line x1="97.42" y1="569.62" x2="99.82" y2="569.62" stroke="#e5127d" stroke-width="0.5" />
<line x1="105.06" y1="576.67" x2="105.06" y2="577.50" stroke="#e5127d" stroke-width="0.6" />
<line x1="103.86" y1="576.67" x2="106.26" y2="576.67" stroke="#e5127d" stroke-width="0.5" />
<line x1="103.86" y1="577.50" x2="106.26" y2="577.50" stroke="#e5127d" stroke-width="0.5" />
<line x1="111.50" y1="576.67" x2="111.50" y2="577.50" stroke="#e5127d" stroke-width="0.6" />
<line x1="110.30" y1="576.67" x2="112.70" y2="576.67" stroke="#e5127d" stroke-width="0.5" />
<line x1="110.30" y1="577.50" x2="112.70" y2="577.50" stroke="#e5127d" stroke-width="0.5" />
<line x1="117.94" y1="576.67" x2="117.94" y2="577.50" stroke="#e5127d" stroke-width="0.6" />
<line x1="116.74" y1="576.67" x2="119.14" y2="576.67" stroke="#e5127d" stroke-width="0.5" />
<line x1="116.74" y1="577.50" x2="119.14" y2="577.50" stroke="#e5127d" stroke-width="0.5" />
<polyline points="47.10,570.45 53.54,571.27 59.98,571.27 66.42,575.42 72.86,575.42 79.30,575.42 85.74,562.98 92.18,566.71 98.62,568.37 105.06,577.09 111.50,577.09 117.94,577.09" fill="none" stroke="#e5127d" stroke-width="0.9" />
<circle cx="47.10" cy="570.45" r="1.0" fill="#e5127d" />
<circle cx="53.54" cy="571.27" r="1.0" fill="#e5127d" />
<circle cx="59.98" cy="571.27" r="1.0" fill="#e5127d" />
<circle cx="66.42" cy="575.42" r="1.0" fill="#e5127d" />
<circle cx="72.86" cy="575.42" r="1.0" fill="#e5127d" />
<circle cx="79.30" cy="575.42" r="1.0" fill="#e5127d" />
<circle cx="85.74" cy="562.98" r="1.0" fill="#e5127d" />
<circle cx="92.18" cy="566.71" r="1.0" fill="#e5127d" />
<circle cx="98.62" cy="568.37" r="1.0" fill="#e5127d" />
<circle cx="105.06" cy="577.09" r="1.0" fill="#e5127d" />
<circle cx="111.50" cy="577.09" r="1.0" fill="#e5127d" />
<circle cx="117.94" cy="577.09" r="1.0" fill="#e5127d" />
<line x1="47.10" y1="564.63" x2="47.10" y2="567.12" stroke="#1f5aa0" stroke-width="0.6" />
<line x1="45.90" y1="564.63" x2="48.30" y2="564.63" stroke="#1f5aa0" stroke-width="0.5" />
<line x1="45.90" y1="567.12" x2="48.30" y2="567.12" stroke="#1f5aa0" stroke-width="0.5" />
<line x1="53.54" y1="565.05" x2="53.54" y2="567.54" stroke="#1f5aa0" stroke-width="0.6" />
<line x1="52.34" y1="565.05" x2="54.74" y2="565.05" stroke="#1f5aa0" stroke-width="0.5" />
<line x1="52.34" y1="567.54" x2="54.74" y2="567.54" stroke="#1f5aa0" stroke-width="0.5" />
<line x1="59.98" y1="565.05" x2="59.98" y2="567.54" stroke="#1f5aa0" stroke-width="0.6" />
<line x1="58.78" y1="565.05" x2="61.18" y2="565.05" stroke="#1f5aa0" stroke-width="0.5" />
<line x1="58.78" y1="567.54" x2="61.18" y2="567.54" stroke="#1f5aa0" stroke-width="0.5" />
<line x1="66.42" y1="572.11" x2="66.42" y2="572.93" stroke="#1f5aa0" stroke-width="0.6" />
<line x1="65.22" y1="572.11" x2="67.62" y2="572.11" stroke="#1f5aa0" stroke-width="0.5" />
<line x1="65.22" y1="572.93" x2="67.62" y2="572.93" stroke="#1f5aa0" stroke-width="0.5" />
<line x1="72.86" y1="572.11" x2="72.86" y2="572.93" stroke="#1f5aa0" stroke-width="0.6" />
<line x1="71.66" y1="572.11" x2="74.06" y2="572.11" stroke="#1f5aa0" stroke-width="0.5" />
<line x1="71.66" y1="572.93" x2="74.06" y2="572.93" stroke="#1f5aa0" stroke-width="0.5" />
<line x1="79.30" y1="572.11" x2="79.30" y2="572.93" stroke="#1f5aa0" stroke-width="0.6" />
<line x1="78.10" y1="572.11" x2="80.50" y2="572.11" stroke="#1f5aa0" stroke-width="0.5" />
<line x1="78.10" y1="572.93" x2="80.50" y2="572.93" stroke="#1f5aa0" stroke-width="0.5" />
<line x1="85.74" y1="555.50" x2="85.74" y2="560.49" stroke="#1f5aa0" stroke-width="0.6" />
<line x1="84.54" y1="555.50" x2="86.94" y2="555.50" stroke="#1f5aa0" stroke-width="0.5" />
<line x1="84.54" y1="560.49" x2="86.94" y2="560.49" stroke="#1f5aa0" stroke-width="0.5" />
<line x1="92.18" y1="558.00" x2="92.18" y2="562.15" stroke="#1f5aa0" stroke-width="0.6" />
<line x1="90.98" y1="558.00" x2="93.38" y2="558.00" stroke="#1f5aa0" stroke-width="0.5" />
<line x1="90.98" y1="562.15" x2="93.38" y2="562.15" stroke="#1f5aa0" stroke-width="0.5" />
<line x1="98.62" y1="559.24" x2="98.62" y2="562.56" stroke="#1f5aa0" stroke-width="0.6" />
<line x1="97.42" y1="559.24" x2="99.82" y2="559.24" stroke="#1f5aa0" stroke-width="0.5" />
<line x1="97.42" y1="562.56" x2="99.82" y2="562.56" stroke="#1f5aa0" stroke-width="0.5" />
<line x1="105.06" y1="573.76" x2="105.06" y2="575.43" stroke="#1f5aa0" stroke-width="0.6" />
<line x1="103.86" y1="573.76" x2="106.26" y2="573.76" stroke="#1f5aa0" stroke-width="0.5" />
<line x1="103.86" y1="575.43" x2="106.26" y2="575.43" stroke="#1f5aa0" stroke-width="0.5" />
<line x1="111.50" y1="573.76" x2="111.50" y2="575.43" stroke="#1f5aa0" stroke-width="0.6" />
<line x1="110.30" y1="573.76" x2="112.70" y2="573.76" stroke="#1f5aa0" stroke-width="0.5" />
<line x1="110.30" y1="575.43" x2="112.70" y2="575.43" stroke="#1f5aa0" stroke-width="0.5" />
<line x1="117.94" y1="573.76" x2="117.94" y2="575.43" stroke="#1f5aa0" stroke-width="0.6" />
<line x1="116.74" y1="573.76" x2="119.14" y2="573.76" stroke="#1f5aa0" stroke-width="0.5" />
<line x1="116.74" y1="575.43" x2="119.14" y2="575.43" stroke="#1f5aa0" stroke-width="0.5" />
<polyline points="47.10,565.88 53.54,566.29 59.98,566.29 66.42,572.52 72.86,572.52 79.30,572.52 85.74,558.00 92.18,560.07 98.62,560.90 105.06,574.60 111.50,574.60 117.94,574.60" fill="none" stroke="#1f5aa0" stroke-width="0.9" />
<circle cx="47.10" cy="565.88" r="1.0" fill="#1f5aa0" />
<circle cx="53.54" cy="566.29" r="1.0" fill="#1f5aa0" />
<circle cx="59.98" cy="566.29" r="1.0" fill="#1f5aa0" />
<circle cx="66.42" cy="572.52" r="1.0" fill="#1f5aa0" />
<circle cx="72.86" cy="572.52" r="1.0" fill="#1f5aa0" />
<circle cx="79.30" cy="572.52" r="1.0" fill="#1f5aa0" />
<circle cx="85.74" cy="558.00" r="1.0" fill="#1f5aa0" />
<circle cx="92.18" cy="560.07" r="1.0" fill="#1f5aa0" />
<circle cx="98.62" cy="560.90" r="1.0" fill="#1f5aa0" />
<circle cx="105.06" cy="574.60" r="1.0" fill="#1f5aa0" />
<circle cx="111.50" cy="574.60" r="1.0" fill="#1f5aa0" />
<circle cx="117.94" cy="574.60" r="1.0" fill="#1f5aa0" />
<line x1="47.10" y1="565.05" x2="47.10" y2="567.54" stroke="#2c1d6e" stroke-width="0.6" />
<line x1="45.90" y1="565.05" x2="48.30" y2="565.05" stroke="#2c1d6e" stroke-width="0.5" />
<line x1="45.90" y1="567.54" x2="48.30" y2="567.54" stroke="#2c1d6e" stroke-width="0.5" />
<line x1="53.54" y1="565.47" x2="53.54" y2="567.96" stroke="#2c1d6e" stroke-width="0.6" />
<line x1="52.34" y1="565.47" x2="54.74" y2="565.47" stroke="#2c1d6e" stroke-width="0.5" />
<line x1="52.34" y1="567.96" x2="54.74" y2="567.96" stroke="#2c1d6e" stroke-width="0.5" />
<line x1="59.98" y1="565.47" x2="59.98" y2="567.96" stroke="#2c1d6e" stroke-width="0.6" />
<line x1="58.78" y1="565.47" x2="61.18" y2="565.47" stroke="#2c1d6e" stroke-width="0.5" />
<line x1="58.78" y1="567.96" x2="61.18" y2="567.96" stroke="#2c1d6e" stroke-width="0.5" />
<line x1="66.42" y1="572.11" x2="66.42" y2="572.93" stroke="#2c1d6e" stroke-width="0.6" />
<line x1="65.22" y1="572.11" x2="67.62" y2="572.11" stroke="#2c1d6e" stroke-width="0.5" />
<line x1="65.22" y1="572.93" x2="67.62" y2="572.93" stroke="#2c1d6e" stroke-width="0.5" />
<line x1="72.86" y1="572.11" x2="72.86" y2="572.93" stroke="#2c1d6e" stroke-width="0.6" />
<line x1="71.66" y1="572.11" x2="74.06" y2="572.11" stroke="#2c1d6e" stroke-width="0.5" />
<line x1="71.66" y1="572.93" x2="74.06" y2="572.93" stroke="#2c1d6e" stroke-width="0.5" />
<line x1="79.30" y1="572.11" x2="79.30" y2="572.93" stroke="#2c1d6e" stroke-width="0.6" />
<line x1="78.10" y1="572.11" x2="80.50" y2="572.11" stroke="#2c1d6e" stroke-width="0.5" />
<line x1="78.10" y1="572.93" x2="80.50" y2="572.93" stroke="#2c1d6e" stroke-width="0.5" />
<line x1="85.74" y1="553.43" x2="85.74" y2="558.41" stroke="#2c1d6e" stroke-width="0.6" />
<line x1="84.54" y1="553.43" x2="86.94" y2="553.43" stroke="#2c1d6e" stroke-width="0.5" />
<line x1="84.54" y1="558.41" x2="86.94" y2="558.41" stroke="#2c1d6e" stroke-width="0.5" />
<line x1="92.18" y1="556.33" x2="92.18" y2="560.49" stroke="#2c1d6e" stroke-width="0.6" />
<line x1="90.98" y1="556.33" x2="93.38" y2="556.33" stroke="#2c1d6e" stroke-width="0.5" />
<line x1="90.98" y1="560.49" x2="93.38" y2="560.49" stroke="#2c1d6e" stroke-width="0.5" />
<line x1="98.62" y1="557.58" x2="98.62" y2="560.90" stroke="#2c1d6e" stroke-width="0.6" />
<line x1="97.42" y1="557.58" x2="99.82" y2="557.58" stroke="#2c1d6e" stroke-width="0.5" />
<line x1="97.42" y1="560.90" x2="99.82" y2="560.90" stroke="#2c1d6e" stroke-width="0.5" />
<line x1="105.06" y1="574.18" x2="105.06" y2="575.84" stroke="#2c1d6e" stroke-width="0.6" />
<line x1="103.86" y1="574.18" x2="106.26" y2="574.18" stroke="#2c1d6e" stroke-width="0.5" />
<line x1="103.86" y1="575.84" x2="106.26" y2="575.84" stroke="#2c1d6e" stroke-width="0.5" />
<line x1="111.50" y1="574.18" x2="111.50" y2="575.84" stroke="#2c1d6e" stroke-width="0.6" />
<line x1="110.30" y1="574.18" x2="112.70" y2="574.18" stroke="#2c1d6e" stroke-width="0.5" />
<line x1="110.30" y1="575.84" x2="112.70" y2="575.84" stroke="#2c1d6e" stroke-width="0.5" />
<line x1="117.94" y1="574.18" x2="117.94" y2="575.84" stroke="#2c1d6e" stroke-width="0.6" />
<line x1="116.74" y1="574.18" x2="119.14" y2="574.18" stroke="#2c1d6e" stroke-width="0.5" />
<line x1="116.74" y1="575.84" x2="119.14" y2="575.84" stroke="#2c1d6e" stroke-width="0.5" />
<polyline points="47.10,566.29 53.54,566.71 59.98,566.71 66.42,572.52 72.86,572.52 79.30,572.52 85.74,555.92 92.18,558.41 98.62,559.24 105.06,575.01 111.50,575.01 117.94,575.01" fill="none" stroke="#2c1d6e" stroke-width="0.9" />
<circle cx="47.10" cy="566.29" r="1.0" fill="#2c1d6e" />
<circle cx="53.54" cy="566.71" r="1.0" fill="#2c1d6e" />
<circle cx="59.98" cy="566.71" r="1.0" fill="#2c1d6e" />
<circle cx="66.42" cy="572.52" r="1.0" fill="#2c1d6e" />
<circle cx="72.86" cy="572.52" r="1.0" fill="#2c1d6e" />
<circle cx="79.30" cy="572.52" r="1.0" fill="#2c1d6e" />
<circle cx="85.74" cy="555.92" r="1.0" fill="#2c1d6e" />
<circle cx="92.18" cy="558.41" r="1.0" fill="#2c1d6e" />
<circle cx="98.62" cy="559.24" r="1.0" fill="#2c1d6e" />
<circle cx="105.06" cy="575.01" r="1.0" fill="#2c1d6e" />
<circle cx="111.50" cy="575.01" r="1.0" fill="#2c1d6e" />
<circle cx="117.94" cy="575.01" r="1.0" fill="#2c1d6e" />
<line x1="47.10" y1="560.49" x2="47.10" y2="563.80" stroke="#f39a3c" stroke-width="0.6" />
<line x1="45.90" y1="560.49" x2="48.30" y2="560.49" stroke="#f39a3c" stroke-width="0.5" />
<line x1="45.90" y1="563.80" x2="48.30" y2="563.80" stroke="#f39a3c" stroke-width="0.5" />
<line x1="53.54" y1="562.14" x2="53.54" y2="564.63" stroke="#f39a3c" stroke-width="0.6" />
<line x1="52.34" y1="562.14" x2="54.74" y2="562.14" stroke="#f39a3c" stroke-width="0.5" />
<line x1="52.34" y1="564.63" x2="54.74" y2="564.63" stroke="#f39a3c" stroke-width="0.5" />
<line x1="59.98" y1="561.73" x2="59.98" y2="564.22" stroke="#f39a3c" stroke-width="0.6" />
<line x1="58.78" y1="561.73" x2="61.18" y2="561.73" stroke="#f39a3c" stroke-width="0.5" />
<line x1="58.78" y1="564.22" x2="61.18" y2="564.22" stroke="#f39a3c" stroke-width="0.5" />
<line x1="66.42" y1="571.27" x2="66.42" y2="572.94" stroke="#f39a3c" stroke-width="0.6" />
<line x1="65.22" y1="571.27" x2="67.62" y2="571.27" stroke="#f39a3c" stroke-width="0.5" />
<line x1="65.22" y1="572.94" x2="67.62" y2="572.94" stroke="#f39a3c" stroke-width="0.5" />
<line x1="72.86" y1="571.27" x2="72.86" y2="572.94" stroke="#f39a3c" stroke-width="0.6" />
<line x1="71.66" y1="571.27" x2="74.06" y2="571.27" stroke="#f39a3c" stroke-width="0.5" />
<line x1="71.66" y1="572.94" x2="74.06" y2="572.94" stroke="#f39a3c" stroke-width="0.5" />
<line x1="79.30" y1="571.27" x2="79.30" y2="572.94" stroke="#f39a3c" stroke-width="0.6" />
<line x1="78.10" y1="571.27" x2="80.50" y2="571.27" stroke="#f39a3c" stroke-width="0.5" />
<line x1="78.10" y1="572.94" x2="80.50" y2="572.94" stroke="#f39a3c" stroke-width="0.5" />
<line x1="85.74" y1="545.13" x2="85.74" y2="553.43" stroke="#f39a3c" stroke-width="0.6" />
<line x1="84.54" y1="545.13" x2="86.94" y2="545.13" stroke="#f39a3c" stroke-width="0.5" />
<line x1="84.54" y1="553.43" x2="86.94" y2="553.43" stroke="#f39a3c" stroke-width="0.5" />
<line x1="92.18" y1="549.28" x2="92.18" y2="555.92" stroke="#f39a3c" stroke-width="0.6" />
<line x1="90.98" y1="549.28" x2="93.38" y2="549.28" stroke="#f39a3c" stroke-width="0.5" />
<line x1="90.98" y1="555.92" x2="93.38" y2="555.92" stroke="#f39a3c" stroke-width="0.5" />
<line x1="98.62" y1="550.94" x2="98.62" y2="556.75" stroke="#f39a3c" stroke-width="0.6" />
<line x1="97.42" y1="550.94" x2="99.82" y2="550.94" stroke="#f39a3c" stroke-width="0.5" />
<line x1="97.42" y1="556.75" x2="99.82" y2="556.75" stroke="#f39a3c" stroke-width="0.5" />
<line x1="105.06" y1="567.54" x2="105.06" y2="579.99" stroke="#f39a3c" stroke-width="0.6" />
<line x1="103.86" y1="567.54" x2="106.26" y2="567.54" stroke="#f39a3c" stroke-width="0.5" />
<line x1="103.86" y1="579.99" x2="106.26" y2="579.99" stroke="#f39a3c" stroke-width="0.5" />
<line x1="111.50" y1="568.78" x2="111.50" y2="578.75" stroke="#f39a3c" stroke-width="0.6" />
<line x1="110.30" y1="568.78" x2="112.70" y2="568.78" stroke="#f39a3c" stroke-width="0.5" />
<line x1="110.30" y1="578.75" x2="112.70" y2="578.75" stroke="#f39a3c" stroke-width="0.5" />
<line x1="117.94" y1="568.78" x2="117.94" y2="578.75" stroke="#f39a3c" stroke-width="0.6" />
<line x1="116.74" y1="568.78" x2="119.14" y2="568.78" stroke="#f39a3c" stroke-width="0.5" />
<line x1="116.74" y1="578.75" x2="119.14" y2="578.75" stroke="#f39a3c" stroke-width="0.5" />
<polyline points="47.10,562.14 53.54,563.39 59.98,562.98 66.42,572.11 72.86,572.11 79.30,572.11 85.74,549.28 92.18,552.60 98.62,553.85 105.06,573.76 111.50,573.76 117.94,573.76" fill="none" stroke="#f39a3c" stroke-width="0.9" />
<circle cx="47.10" cy="562.14" r="1.0" fill="#f39a3c" />
<circle cx="53.54" cy="563.39" r="1.0" fill="#f39a3c" />
<circle cx="59.98" cy="562.98" r="1.0" fill="#f39a3c" />
<circle cx="66.42" cy="572.11" r="1.0" fill="#f39a3c" />
<circle cx="72.86" cy="572.11" r="1.0" fill="#f39a3c" />
<circle cx="79.30" cy="572.11" r="1.0" fill="#f39a3c" />
<circle cx="85.74" cy="549.28" r="1.0" fill="#f39a3c" />
<circle cx="92.18" cy="552.60" r="1.0" fill="#f39a3c" />
<circle cx="98.62" cy="553.85" r="1.0" fill="#f39a3c" />
<circle cx="105.06" cy="573.76" r="1.0" fill="#f39a3c" />
<circle cx="111.50" cy="573.76" r="1.0" fill="#f39a3c" />
<circle cx="117.94" cy="573.76" r="1.0" fill="#f39a3c" />
<line x1="47.10" y1="560.07" x2="47.10" y2="563.39" stroke="#4bb749" stroke-width="0.6" />
<line x1="45.90" y1="560.07" x2="48.30" y2="560.07" stroke="#4bb749" stroke-width="0.5" />
<line x1="45.90" y1="563.39" x2="48.30" y2="563.39" stroke="#4bb749" stroke-width="0.5" />
<line x1="53.54" y1="561.31" x2="53.54" y2="563.80" stroke="#4bb749" stroke-width="0.6" />
<line x1="52.34" y1="561.31" x2="54.74" y2="561.31" stroke="#4bb749" stroke-width="0.5" />
<line x1="52.34" y1="563.80" x2="54.74" y2="563.80" stroke="#4bb749" stroke-width="0.5" />
<line x1="59.98" y1="560.90" x2="59.98" y2="563.39" stroke="#4bb749" stroke-width="0.6" />
<line x1="58.78" y1="560.90" x2="61.18" y2="560.90" stroke="#4bb749" stroke-width="0.5" />
<line x1="58.78" y1="563.39" x2="61.18" y2="563.39" stroke="#4bb749" stroke-width="0.5" />
<line x1="66.42" y1="571.27" x2="66.42" y2="572.94" stroke="#4bb749" stroke-width="0.6" />
<line x1="65.22" y1="571.27" x2="67.62" y2="571.27" stroke="#4bb749" stroke-width="0.5" />
<line x1="65.22" y1="572.94" x2="67.62" y2="572.94" stroke="#4bb749" stroke-width="0.5" />
<line x1="72.86" y1="571.27" x2="72.86" y2="572.94" stroke="#4bb749" stroke-width="0.6" />
<line x1="71.66" y1="571.27" x2="74.06" y2="571.27" stroke="#4bb749" stroke-width="0.5" />
<line x1="71.66" y1="572.94" x2="74.06" y2="572.94" stroke="#4bb749" stroke-width="0.5" />
<line x1="79.30" y1="571.27" x2="79.30" y2="572.94" stroke="#4bb749" stroke-width="0.6" />
<line x1="78.10" y1="571.27" x2="80.50" y2="571.27" stroke="#4bb749" stroke-width="0.5" />
<line x1="78.10" y1="572.94" x2="80.50" y2="572.94" stroke="#4bb749" stroke-width="0.5" />
<line x1="85.74" y1="542.64" x2="85.74" y2="552.60" stroke="#4bb749" stroke-width="0.6" />
<line x1="84.54" y1="542.64" x2="86.94" y2="542.64" stroke="#4bb749" stroke-width="0.5" />
<line x1="84.54" y1="552.60" x2="86.94" y2="552.60" stroke="#4bb749" stroke-width="0.5" />
<line x1="92.18" y1="548.03" x2="92.18" y2="554.68" stroke="#4bb749" stroke-width="0.6" />
<line x1="90.98" y1="548.03" x2="93.38" y2="548.03" stroke="#4bb749" stroke-width="0.5" />
<line x1="90.98" y1="554.68" x2="93.38" y2="554.68" stroke="#4bb749" stroke-width="0.5" />
<line x1="98.62" y1="549.28" x2="98.62" y2="555.92" stroke="#4bb749" stroke-width="0.6" />
<line x1="97.42" y1="549.28" x2="99.82" y2="549.28" stroke="#4bb749" stroke-width="0.5" />
<line x1="97.42" y1="555.92" x2="99.82" y2="555.92" stroke="#4bb749" stroke-width="0.5" />
<line x1="105.06" y1="571.69" x2="105.06" y2="575.01" stroke="#4bb749" stroke-width="0.6" />
<line x1="103.86" y1="571.69" x2="106.26" y2="571.69" stroke="#4bb749" stroke-width="0.5" />
<line x1="103.86" y1="575.01" x2="106.26" y2="575.01" stroke="#4bb749" stroke-width="0.5" />
<line x1="111.50" y1="571.69" x2="111.50" y2="575.01" stroke="#4bb749" stroke-width="0.6" />
<line x1="110.30" y1="571.69" x2="112.70" y2="571.69" stroke="#4bb749" stroke-width="0.5" />
<line x1="110.30" y1="575.01" x2="112.70" y2="575.01" stroke="#4bb749" stroke-width="0.5" />
<line x1="117.94" y1="571.69" x2="117.94" y2="575.01" stroke="#4bb749" stroke-width="0.6" />
<line x1="116.74" y1="571.69" x2="119.14" y2="571.69" stroke="#4bb749" stroke-width="0.5" />
<line x1="116.74" y1="575.01" x2="119.14" y2="575.01" stroke="#4bb749" stroke-width="0.5" />
<polyline points="47.10,561.73 53.54,562.56 59.98,562.14 66.42,572.11 72.86,572.11 79.30,572.11 85.74,547.62 92.18,551.36 98.62,552.60 105.06,573.35 111.50,573.35 117.94,573.35" fill="none" stroke="#4bb749" stroke-width="0.9" />
<circle cx="47.10" cy="561.73" r="1.0" fill="#4bb749" />
<circle cx="53.54" cy="562.56" r="1.0" fill="#4bb749" />
<circle cx="59.98" cy="562.14" r="1.0" fill="#4bb749" />
<circle cx="66.42" cy="572.11" r="1.0" fill="#4bb749" />
<circle cx="72.86" cy="572.11" r="1.0" fill="#4bb749" />
<circle cx="79.30" cy="572.11" r="1.0" fill="#4bb749" />
<circle cx="85.74" cy="547.62" r="1.0" fill="#4bb749" />
<circle cx="92.18" cy="551.36" r="1.0" fill="#4bb749" />
<circle cx="98.62" cy="552.60" r="1.0" fill="#4bb749" />
<circle cx="105.06" cy="573.35" r="1.0" fill="#4bb749" />
<circle cx="111.50" cy="573.35" r="1.0" fill="#4bb749" />
<circle cx="117.94" cy="573.35" r="1.0" fill="#4bb749" />
<line x1="42.30" y1="614.40" x2="42.30" y2="665.50" stroke="#222" stroke-width="0.9" />
<line x1="41.90" y1="665.10" x2="119.80" y2="665.10" stroke="#222" stroke-width="0.9" />
<line x1="38.70" y1="665.10" x2="42.30" y2="665.10" stroke="#222" stroke-width="0.7" />
<text x="35.40" y="667.30" font-size="6.4" text-anchor="end" fill="#2a2a2a" stroke="#2a2a2a" stroke-width="0.1" textLength="3.4" lengthAdjust="spacingAndGlyphs" >0</text>
<line x1="38.70" y1="648.70" x2="42.30" y2="648.70" stroke="#222" stroke-width="0.7" />
<text x="35.40" y="650.90" font-size="6.4" text-anchor="end" fill="#2a2a2a" stroke="#2a2a2a" stroke-width="0.1" textLength="6.8" lengthAdjust="spacingAndGlyphs" >20</text>
<line x1="38.70" y1="632.30" x2="42.30" y2="632.30" stroke="#222" stroke-width="0.7" />
<text x="35.40" y="634.50" font-size="6.4" text-anchor="end" fill="#2a2a2a" stroke="#2a2a2a" stroke-width="0.1" textLength="6.8" lengthAdjust="spacingAndGlyphs" >40</text>
<line x1="38.70" y1="615.90" x2="42.30" y2="615.90" stroke="#222" stroke-width="0.7" />
<text x="35.40" y="618.10" font-size="6.4" text-anchor="end" fill="#2a2a2a" stroke="#2a2a2a" stroke-width="0.1" textLength="6.8" lengthAdjust="spacingAndGlyphs" >60</text>
<line x1="42.30" y1="665.10" x2="42.30" y2="667.30" stroke="#222" stroke-width="0.7" />
<text x="42.30" y="676.90" font-size="6.4" text-anchor="middle" fill="#2a2a2a" stroke="#2a2a2a" stroke-width="0.1" textLength="3.4" lengthAdjust="spacingAndGlyphs" >0</text>
<line x1="60.80" y1="665.10" x2="60.80" y2="667.30" stroke="#222" stroke-width="0.7" />
<text x="60.80" y="676.90" font-size="6.4" text-anchor="middle" fill="#2a2a2a" stroke="#2a2a2a" stroke-width="0.1" textLength="6.8" lengthAdjust="spacingAndGlyphs" >20</text>
<line x1="79.30" y1="665.10" x2="79.30" y2="667.30" stroke="#222" stroke-width="0.7" />
<text x="79.30" y="676.90" font-size="6.4" text-anchor="middle" fill="#2a2a2a" stroke="#2a2a2a" stroke-width="0.1" textLength="6.8" lengthAdjust="spacingAndGlyphs" >40</text>
<line x1="97.80" y1="665.10" x2="97.80" y2="667.30" stroke="#222" stroke-width="0.7" />
<text x="97.80" y="676.90" font-size="6.4" text-anchor="middle" fill="#2a2a2a" stroke="#2a2a2a" stroke-width="0.1" textLength="6.8" lengthAdjust="spacingAndGlyphs" >60</text>
<line x1="116.30" y1="665.10" x2="116.30" y2="667.30" stroke="#222" stroke-width="0.7" />
<text x="116.30" y="676.90" font-size="6.4" text-anchor="middle" fill="#2a2a2a" stroke="#2a2a2a" stroke-width="0.1" textLength="6.8" lengthAdjust="spacingAndGlyphs" >80</text>
<text x="23.30" y="639.40" font-size="7.6" text-anchor="middle" fill="#2a2a2a" stroke="#2a2a2a" stroke-width="0.1" textLength="50.6" lengthAdjust="spacingAndGlyphs" transform="rotate(-90 23.30 639.40)" >ECAR (mpH/min)</text>
<line x1="42.80" y1="660.18" x2="42.80" y2="661.00" stroke="#e5127d" stroke-width="0.6" />
<line x1="41.60" y1="660.18" x2="44.00" y2="660.18" stroke="#e5127d" stroke-width="0.5" />
<line x1="41.60" y1="661.00" x2="44.00" y2="661.00" stroke="#e5127d" stroke-width="0.5" />
<line x1="49.24" y1="660.18" x2="49.24" y2="661.00" stroke="#e5127d" stroke-width="0.6" />
<line x1="48.04" y1="660.18" x2="50.44" y2="660.18" stroke="#e5127d" stroke-width="0.5" />
<line x1="48.04" y1="661.00" x2="50.44" y2="661.00" stroke="#e5127d" stroke-width="0.5" />
<line x1="55.68" y1="660.18" x2="55.68" y2="661.00" stroke="#e5127d" stroke-width="0.6" />
<line x1="54.48" y1="660.18" x2="56.88" y2="660.18" stroke="#e5127d" stroke-width="0.5" />
<line x1="54.48" y1="661.00" x2="56.88" y2="661.00" stroke="#e5127d" stroke-width="0.5" />
<line x1="62.12" y1="657.39" x2="62.12" y2="660.67" stroke="#e5127d" stroke-width="0.6" />
<line x1="60.92" y1="657.39" x2="63.32" y2="657.39" stroke="#e5127d" stroke-width="0.5" />
<line x1="60.92" y1="660.67" x2="63.32" y2="660.67" stroke="#e5127d" stroke-width="0.5" />
<line x1="68.56" y1="654.77" x2="68.56" y2="658.05" stroke="#e5127d" stroke-width="0.6" />
<line x1="67.36" y1="654.77" x2="69.76" y2="654.77" stroke="#e5127d" stroke-width="0.5" />
<line x1="67.36" y1="658.05" x2="69.76" y2="658.05" stroke="#e5127d" stroke-width="0.5" />
<line x1="75.00" y1="653.05" x2="75.00" y2="656.33" stroke="#e5127d" stroke-width="0.6" />
<line x1="73.80" y1="653.05" x2="76.20" y2="653.05" stroke="#e5127d" stroke-width="0.5" />
<line x1="73.80" y1="656.33" x2="76.20" y2="656.33" stroke="#e5127d" stroke-width="0.5" />
<line x1="81.44" y1="651.65" x2="81.44" y2="654.93" stroke="#e5127d" stroke-width="0.6" />
<line x1="80.24" y1="651.65" x2="82.64" y2="651.65" stroke="#e5127d" stroke-width="0.5" />
<line x1="80.24" y1="654.93" x2="82.64" y2="654.93" stroke="#e5127d" stroke-width="0.5" />
<line x1="87.88" y1="651.65" x2="87.88" y2="654.93" stroke="#e5127d" stroke-width="0.6" />
<line x1="86.68" y1="651.65" x2="89.08" y2="651.65" stroke="#e5127d" stroke-width="0.5" />
<line x1="86.68" y1="654.93" x2="89.08" y2="654.93" stroke="#e5127d" stroke-width="0.5" />
<line x1="94.32" y1="651.65" x2="94.32" y2="654.93" stroke="#e5127d" stroke-width="0.6" />
<line x1="93.12" y1="651.65" x2="95.52" y2="651.65" stroke="#e5127d" stroke-width="0.5" />
<line x1="93.12" y1="654.93" x2="95.52" y2="654.93" stroke="#e5127d" stroke-width="0.5" />
<line x1="100.76" y1="651.98" x2="100.76" y2="655.26" stroke="#e5127d" stroke-width="0.6" />
<line x1="99.56" y1="651.98" x2="101.96" y2="651.98" stroke="#e5127d" stroke-width="0.5" />
<line x1="99.56" y1="655.26" x2="101.96" y2="655.26" stroke="#e5127d" stroke-width="0.5" />
<line x1="107.20" y1="651.98" x2="107.20" y2="655.26" stroke="#e5127d" stroke-width="0.6" />
<line x1="106.00" y1="651.98" x2="108.40" y2="651.98" stroke="#e5127d" stroke-width="0.5" />
<line x1="106.00" y1="655.26" x2="108.40" y2="655.26" stroke="#e5127d" stroke-width="0.5" />
<line x1="113.64" y1="651.98" x2="113.64" y2="655.26" stroke="#e5127d" stroke-width="0.6" />
<line x1="112.44" y1="651.98" x2="114.84" y2="651.98" stroke="#e5127d" stroke-width="0.5" />
<line x1="112.44" y1="655.26" x2="114.84" y2="655.26" stroke="#e5127d" stroke-width="0.5" />
<polyline points="42.80,660.59 49.24,660.59 55.68,660.59 62.12,659.03 68.56,656.41 75.00,654.69 81.44,653.29 87.88,653.29 94.32,653.29 100.76,653.62 107.20,653.62 113.64,653.62" fill="none" stroke="#e5127d" stroke-width="0.9" />
<circle cx="42.80" cy="660.59" r="1.0" fill="#e5127d" />
<circle cx="49.24" cy="660.59" r="1.0" fill="#e5127d" />
<circle cx="55.68" cy="660.59" r="1.0" fill="#e5127d" />
<circle cx="62.12" cy="659.03" r="1.0" fill="#e5127d" />
<circle cx="68.56" cy="656.41" r="1.0" fill="#e5127d" />
<circle cx="75.00" cy="654.69" r="1.0" fill="#e5127d" />
<circle cx="81.44" cy="653.29" r="1.0" fill="#e5127d" />
<circle cx="87.88" cy="653.29" r="1.0" fill="#e5127d" />
<circle cx="94.32" cy="653.29" r="1.0" fill="#e5127d" />
<circle cx="100.76" cy="653.62" r="1.0" fill="#e5127d" />
<circle cx="107.20" cy="653.62" r="1.0" fill="#e5127d" />
<circle cx="113.64" cy="653.62" r="1.0" fill="#e5127d" />
<line x1="42.80" y1="646.65" x2="42.80" y2="649.93" stroke="#6a5aa6" stroke-width="0.6" />
<line x1="41.60" y1="646.65" x2="44.00" y2="646.65" stroke="#6a5aa6" stroke-width="0.5" />
<line x1="41.60" y1="649.93" x2="44.00" y2="649.93" stroke="#6a5aa6" stroke-width="0.5" />
<line x1="49.24" y1="646.24" x2="49.24" y2="649.52" stroke="#6a5aa6" stroke-width="0.6" />
<line x1="48.04" y1="646.24" x2="50.44" y2="646.24" stroke="#6a5aa6" stroke-width="0.5" />
<line x1="48.04" y1="649.52" x2="50.44" y2="649.52" stroke="#6a5aa6" stroke-width="0.5" />
<line x1="55.68" y1="646.24" x2="55.68" y2="649.52" stroke="#6a5aa6" stroke-width="0.6" />
<line x1="54.48" y1="646.24" x2="56.88" y2="646.24" stroke="#6a5aa6" stroke-width="0.5" />
<line x1="54.48" y1="649.52" x2="56.88" y2="649.52" stroke="#6a5aa6" stroke-width="0.5" />
<line x1="62.12" y1="642.55" x2="62.12" y2="645.83" stroke="#6a5aa6" stroke-width="0.6" />
<line x1="60.92" y1="642.55" x2="63.32" y2="642.55" stroke="#6a5aa6" stroke-width="0.5" />
<line x1="60.92" y1="645.83" x2="63.32" y2="645.83" stroke="#6a5aa6" stroke-width="0.5" />
<line x1="68.56" y1="640.91" x2="68.56" y2="644.19" stroke="#6a5aa6" stroke-width="0.6" />
<line x1="67.36" y1="640.91" x2="69.76" y2="640.91" stroke="#6a5aa6" stroke-width="0.5" />
<line x1="67.36" y1="644.19" x2="69.76" y2="644.19" stroke="#6a5aa6" stroke-width="0.5" />
<line x1="75.00" y1="639.27" x2="75.00" y2="642.55" stroke="#6a5aa6" stroke-width="0.6" />
<line x1="73.80" y1="639.27" x2="76.20" y2="639.27" stroke="#6a5aa6" stroke-width="0.5" />
<line x1="73.80" y1="642.55" x2="76.20" y2="642.55" stroke="#6a5aa6" stroke-width="0.5" />
<line x1="81.44" y1="636.81" x2="81.44" y2="640.09" stroke="#6a5aa6" stroke-width="0.6" />
<line x1="80.24" y1="636.81" x2="82.64" y2="636.81" stroke="#6a5aa6" stroke-width="0.5" />
<line x1="80.24" y1="640.09" x2="82.64" y2="640.09" stroke="#6a5aa6" stroke-width="0.5" />
<line x1="87.88" y1="636.40" x2="87.88" y2="639.68" stroke="#6a5aa6" stroke-width="0.6" />
<line x1="86.68" y1="636.40" x2="89.08" y2="636.40" stroke="#6a5aa6" stroke-width="0.5" />
<line x1="86.68" y1="639.68" x2="89.08" y2="639.68" stroke="#6a5aa6" stroke-width="0.5" />
<line x1="94.32" y1="636.40" x2="94.32" y2="639.68" stroke="#6a5aa6" stroke-width="0.6" />
<line x1="93.12" y1="636.40" x2="95.52" y2="636.40" stroke="#6a5aa6" stroke-width="0.5" />
<line x1="93.12" y1="639.68" x2="95.52" y2="639.68" stroke="#6a5aa6" stroke-width="0.5" />
<line x1="100.76" y1="637.63" x2="100.76" y2="640.91" stroke="#6a5aa6" stroke-width="0.6" />
<line x1="99.56" y1="637.63" x2="101.96" y2="637.63" stroke="#6a5aa6" stroke-width="0.5" />
<line x1="99.56" y1="640.91" x2="101.96" y2="640.91" stroke="#6a5aa6" stroke-width="0.5" />
<line x1="107.20" y1="637.63" x2="107.20" y2="640.91" stroke="#6a5aa6" stroke-width="0.6" />
<line x1="106.00" y1="637.63" x2="108.40" y2="637.63" stroke="#6a5aa6" stroke-width="0.5" />
<line x1="106.00" y1="640.91" x2="108.40" y2="640.91" stroke="#6a5aa6" stroke-width="0.5" />
<line x1="113.64" y1="637.63" x2="113.64" y2="640.91" stroke="#6a5aa6" stroke-width="0.6" />
<line x1="112.44" y1="637.63" x2="114.84" y2="637.63" stroke="#6a5aa6" stroke-width="0.5" />
<line x1="112.44" y1="640.91" x2="114.84" y2="640.91" stroke="#6a5aa6" stroke-width="0.5" />
<polyline points="42.80,648.29 49.24,647.88 55.68,647.88 62.12,644.19 68.56,642.55 75.00,640.91 81.44,638.45 87.88,638.04 94.32,638.04 100.76,639.27 107.20,639.27 113.64,639.27" fill="none" stroke="#6a5aa6" stroke-width="0.9" />
<circle cx="42.80" cy="648.29" r="1.0" fill="#6a5aa6" />
<circle cx="49.24" cy="647.88" r="1.0" fill="#6a5aa6" />
<circle cx="55.68" cy="647.88" r="1.0" fill="#6a5aa6" />
<circle cx="62.12" cy="644.19" r="1.0" fill="#6a5aa6" />
<circle cx="68.56" cy="642.55" r="1.0" fill="#6a5aa6" />
<circle cx="75.00" cy="640.91" r="1.0" fill="#6a5aa6" />
<circle cx="81.44" cy="638.45" r="1.0" fill="#6a5aa6" />
<circle cx="87.88" cy="638.04" r="1.0" fill="#6a5aa6" />
<circle cx="94.32" cy="638.04" r="1.0" fill="#6a5aa6" />
<circle cx="100.76" cy="639.27" r="1.0" fill="#6a5aa6" />
<circle cx="107.20" cy="639.27" r="1.0" fill="#6a5aa6" />
<circle cx="113.64" cy="639.27" r="1.0" fill="#6a5aa6" />
<line x1="42.80" y1="646.73" x2="42.80" y2="649.19" stroke="#1c6088" stroke-width="0.6" />
<line x1="41.60" y1="646.73" x2="44.00" y2="646.73" stroke="#1c6088" stroke-width="0.5" />
<line x1="41.60" y1="649.19" x2="44.00" y2="649.19" stroke="#1c6088" stroke-width="0.5" />
<line x1="49.24" y1="646.49" x2="49.24" y2="648.95" stroke="#1c6088" stroke-width="0.6" />
<line x1="48.04" y1="646.49" x2="50.44" y2="646.49" stroke="#1c6088" stroke-width="0.5" />
<line x1="48.04" y1="648.95" x2="50.44" y2="648.95" stroke="#1c6088" stroke-width="0.5" />
<line x1="55.68" y1="646.16" x2="55.68" y2="648.62" stroke="#1c6088" stroke-width="0.6" />
<line x1="54.48" y1="646.16" x2="56.88" y2="646.16" stroke="#1c6088" stroke-width="0.5" />
<line x1="54.48" y1="648.62" x2="56.88" y2="648.62" stroke="#1c6088" stroke-width="0.5" />
<line x1="62.12" y1="642.71" x2="62.12" y2="645.17" stroke="#1c6088" stroke-width="0.6" />
<line x1="60.92" y1="642.71" x2="63.32" y2="642.71" stroke="#1c6088" stroke-width="0.5" />
<line x1="60.92" y1="645.17" x2="63.32" y2="645.17" stroke="#1c6088" stroke-width="0.5" />
<line x1="68.56" y1="641.07" x2="68.56" y2="643.53" stroke="#1c6088" stroke-width="0.6" />
<line x1="67.36" y1="641.07" x2="69.76" y2="641.07" stroke="#1c6088" stroke-width="0.5" />
<line x1="67.36" y1="643.53" x2="69.76" y2="643.53" stroke="#1c6088" stroke-width="0.5" />
<line x1="75.00" y1="639.43" x2="75.00" y2="641.89" stroke="#1c6088" stroke-width="0.6" />
<line x1="73.80" y1="639.43" x2="76.20" y2="639.43" stroke="#1c6088" stroke-width="0.5" />
<line x1="73.80" y1="641.89" x2="76.20" y2="641.89" stroke="#1c6088" stroke-width="0.5" />
<line x1="81.44" y1="637.22" x2="81.44" y2="639.68" stroke="#1c6088" stroke-width="0.6" />
<line x1="80.24" y1="637.22" x2="82.64" y2="637.22" stroke="#1c6088" stroke-width="0.5" />
<line x1="80.24" y1="639.68" x2="82.64" y2="639.68" stroke="#1c6088" stroke-width="0.5" />
<line x1="87.88" y1="636.89" x2="87.88" y2="639.35" stroke="#1c6088" stroke-width="0.6" />
<line x1="86.68" y1="636.89" x2="89.08" y2="636.89" stroke="#1c6088" stroke-width="0.5" />
<line x1="86.68" y1="639.35" x2="89.08" y2="639.35" stroke="#1c6088" stroke-width="0.5" />
<line x1="94.32" y1="637.22" x2="94.32" y2="639.68" stroke="#1c6088" stroke-width="0.6" />
<line x1="93.12" y1="637.22" x2="95.52" y2="637.22" stroke="#1c6088" stroke-width="0.5" />
<line x1="93.12" y1="639.68" x2="95.52" y2="639.68" stroke="#1c6088" stroke-width="0.5" />
<line x1="100.76" y1="638.29" x2="100.76" y2="640.75" stroke="#1c6088" stroke-width="0.6" />
<line x1="99.56" y1="638.29" x2="101.96" y2="638.29" stroke="#1c6088" stroke-width="0.5" />
<line x1="99.56" y1="640.75" x2="101.96" y2="640.75" stroke="#1c6088" stroke-width="0.5" />
<line x1="107.20" y1="638.12" x2="107.20" y2="640.58" stroke="#1c6088" stroke-width="0.6" />
<line x1="106.00" y1="638.12" x2="108.40" y2="638.12" stroke="#1c6088" stroke-width="0.5" />
<line x1="106.00" y1="640.58" x2="108.40" y2="640.58" stroke="#1c6088" stroke-width="0.5" />
<line x1="113.64" y1="638.12" x2="113.64" y2="640.58" stroke="#1c6088" stroke-width="0.6" />
<line x1="112.44" y1="638.12" x2="114.84" y2="638.12" stroke="#1c6088" stroke-width="0.5" />
<line x1="112.44" y1="640.58" x2="114.84" y2="640.58" stroke="#1c6088" stroke-width="0.5" />
<polyline points="42.80,647.96 49.24,647.72 55.68,647.39 62.12,643.94 68.56,642.30 75.00,640.66 81.44,638.45 87.88,638.12 94.32,638.45 100.76,639.52 107.20,639.35 113.64,639.35" fill="none" stroke="#1c6088" stroke-width="0.9" />
<circle cx="42.80" cy="647.96" r="1.0" fill="#1c6088" />
<circle cx="49.24" cy="647.72" r="1.0" fill="#1c6088" />
<circle cx="55.68" cy="647.39" r="1.0" fill="#1c6088" />
<circle cx="62.12" cy="643.94" r="1.0" fill="#1c6088" />
<circle cx="68.56" cy="642.30" r="1.0" fill="#1c6088" />
<circle cx="75.00" cy="640.66" r="1.0" fill="#1c6088" />
<circle cx="81.44" cy="638.45" r="1.0" fill="#1c6088" />
<circle cx="87.88" cy="638.12" r="1.0" fill="#1c6088" />
<circle cx="94.32" cy="638.45" r="1.0" fill="#1c6088" />
<circle cx="100.76" cy="639.52" r="1.0" fill="#1c6088" />
<circle cx="107.20" cy="639.35" r="1.0" fill="#1c6088" />
<circle cx="113.64" cy="639.35" r="1.0" fill="#1c6088" />
<line x1="42.80" y1="639.93" x2="42.80" y2="643.21" stroke="#f39a3c" stroke-width="0.6" />
<line x1="41.60" y1="639.93" x2="44.00" y2="639.93" stroke="#f39a3c" stroke-width="0.5" />
<line x1="41.60" y1="643.21" x2="44.00" y2="643.21" stroke="#f39a3c" stroke-width="0.5" />
<line x1="49.24" y1="640.25" x2="49.24" y2="643.53" stroke="#f39a3c" stroke-width="0.6" />
<line x1="48.04" y1="640.25" x2="50.44" y2="640.25" stroke="#f39a3c" stroke-width="0.5" />
<line x1="48.04" y1="643.53" x2="50.44" y2="643.53" stroke="#f39a3c" stroke-width="0.5" />
<line x1="55.68" y1="640.58" x2="55.68" y2="643.86" stroke="#f39a3c" stroke-width="0.6" />
<line x1="54.48" y1="640.58" x2="56.88" y2="640.58" stroke="#f39a3c" stroke-width="0.5" />
<line x1="54.48" y1="643.86" x2="56.88" y2="643.86" stroke="#f39a3c" stroke-width="0.5" />
<line x1="62.12" y1="635.01" x2="62.12" y2="638.29" stroke="#f39a3c" stroke-width="0.6" />
<line x1="60.92" y1="635.01" x2="63.32" y2="635.01" stroke="#f39a3c" stroke-width="0.5" />
<line x1="60.92" y1="638.29" x2="63.32" y2="638.29" stroke="#f39a3c" stroke-width="0.5" />
<line x1="68.56" y1="633.28" x2="68.56" y2="636.56" stroke="#f39a3c" stroke-width="0.6" />
<line x1="67.36" y1="633.28" x2="69.76" y2="633.28" stroke="#f39a3c" stroke-width="0.5" />
<line x1="67.36" y1="636.56" x2="69.76" y2="636.56" stroke="#f39a3c" stroke-width="0.5" />
<line x1="75.00" y1="632.05" x2="75.00" y2="635.33" stroke="#f39a3c" stroke-width="0.6" />
<line x1="73.80" y1="632.05" x2="76.20" y2="632.05" stroke="#f39a3c" stroke-width="0.5" />
<line x1="73.80" y1="635.33" x2="76.20" y2="635.33" stroke="#f39a3c" stroke-width="0.5" />
<line x1="81.44" y1="628.94" x2="81.44" y2="632.22" stroke="#f39a3c" stroke-width="0.6" />
<line x1="80.24" y1="628.94" x2="82.64" y2="628.94" stroke="#f39a3c" stroke-width="0.5" />
<line x1="80.24" y1="632.22" x2="82.64" y2="632.22" stroke="#f39a3c" stroke-width="0.5" />
<line x1="87.88" y1="629.27" x2="87.88" y2="632.55" stroke="#f39a3c" stroke-width="0.6" />
<line x1="86.68" y1="629.27" x2="89.08" y2="629.27" stroke="#f39a3c" stroke-width="0.5" />
<line x1="86.68" y1="632.55" x2="89.08" y2="632.55" stroke="#f39a3c" stroke-width="0.5" />
<line x1="94.32" y1="629.27" x2="94.32" y2="632.55" stroke="#f39a3c" stroke-width="0.6" />
<line x1="93.12" y1="629.27" x2="95.52" y2="629.27" stroke="#f39a3c" stroke-width="0.5" />
<line x1="93.12" y1="632.55" x2="95.52" y2="632.55" stroke="#f39a3c" stroke-width="0.5" />
<line x1="100.76" y1="630.66" x2="100.76" y2="633.94" stroke="#f39a3c" stroke-width="0.6" />
<line x1="99.56" y1="630.66" x2="101.96" y2="630.66" stroke="#f39a3c" stroke-width="0.5" />
<line x1="99.56" y1="633.94" x2="101.96" y2="633.94" stroke="#f39a3c" stroke-width="0.5" />
<line x1="107.20" y1="630.66" x2="107.20" y2="633.94" stroke="#f39a3c" stroke-width="0.6" />
<line x1="106.00" y1="630.66" x2="108.40" y2="630.66" stroke="#f39a3c" stroke-width="0.5" />
<line x1="106.00" y1="633.94" x2="108.40" y2="633.94" stroke="#f39a3c" stroke-width="0.5" />
<line x1="113.64" y1="630.66" x2="113.64" y2="633.94" stroke="#f39a3c" stroke-width="0.6" />
<line x1="112.44" y1="630.66" x2="114.84" y2="630.66" stroke="#f39a3c" stroke-width="0.5" />
<line x1="112.44" y1="633.94" x2="114.84" y2="633.94" stroke="#f39a3c" stroke-width="0.5" />
<polyline points="42.80,641.57 49.24,641.89 55.68,642.22 62.12,636.65 68.56,634.92 75.00,633.69 81.44,630.58 87.88,630.91 94.32,630.91 100.76,632.30 107.20,632.30 113.64,632.30" fill="none" stroke="#f39a3c" stroke-width="0.9" />
<circle cx="42.80" cy="641.57" r="1.0" fill="#f39a3c" />
<circle cx="49.24" cy="641.89" r="1.0" fill="#f39a3c" />
<circle cx="55.68" cy="642.22" r="1.0" fill="#f39a3c" />
<circle cx="62.12" cy="636.65" r="1.0" fill="#f39a3c" />
<circle cx="68.56" cy="634.92" r="1.0" fill="#f39a3c" />
<circle cx="75.00" cy="633.69" r="1.0" fill="#f39a3c" />
<circle cx="81.44" cy="630.58" r="1.0" fill="#f39a3c" />
<circle cx="87.88" cy="630.91" r="1.0" fill="#f39a3c" />
<circle cx="94.32" cy="630.91" r="1.0" fill="#f39a3c" />
<circle cx="100.76" cy="632.30" r="1.0" fill="#f39a3c" />
<circle cx="107.20" cy="632.30" r="1.0" fill="#f39a3c" />
<circle cx="113.64" cy="632.30" r="1.0" fill="#f39a3c" />
<line x1="42.80" y1="637.63" x2="42.80" y2="640.91" stroke="#4bb749" stroke-width="0.6" />
<line x1="41.60" y1="637.63" x2="44.00" y2="637.63" stroke="#4bb749" stroke-width="0.5" />
<line x1="41.60" y1="640.91" x2="44.00" y2="640.91" stroke="#4bb749" stroke-width="0.5" />
<line x1="49.24" y1="637.96" x2="49.24" y2="641.24" stroke="#4bb749" stroke-width="0.6" />
<line x1="48.04" y1="637.96" x2="50.44" y2="637.96" stroke="#4bb749" stroke-width="0.5" />
<line x1="48.04" y1="641.24" x2="50.44" y2="641.24" stroke="#4bb749" stroke-width="0.5" />
<line x1="55.68" y1="638.12" x2="55.68" y2="641.40" stroke="#4bb749" stroke-width="0.6" />
<line x1="54.48" y1="638.12" x2="56.88" y2="638.12" stroke="#4bb749" stroke-width="0.5" />
<line x1="54.48" y1="641.40" x2="56.88" y2="641.40" stroke="#4bb749" stroke-width="0.5" />
<line x1="62.12" y1="633.28" x2="62.12" y2="636.56" stroke="#4bb749" stroke-width="0.6" />
<line x1="60.92" y1="633.28" x2="63.32" y2="633.28" stroke="#4bb749" stroke-width="0.5" />
<line x1="60.92" y1="636.56" x2="63.32" y2="636.56" stroke="#4bb749" stroke-width="0.5" />
<line x1="68.56" y1="630.66" x2="68.56" y2="633.94" stroke="#4bb749" stroke-width="0.6" />
<line x1="67.36" y1="630.66" x2="69.76" y2="630.66" stroke="#4bb749" stroke-width="0.5" />
<line x1="67.36" y1="633.94" x2="69.76" y2="633.94" stroke="#4bb749" stroke-width="0.5" />
<line x1="75.00" y1="629.43" x2="75.00" y2="632.71" stroke="#4bb749" stroke-width="0.6" />
<line x1="73.80" y1="629.43" x2="76.20" y2="629.43" stroke="#4bb749" stroke-width="0.5" />
<line x1="73.80" y1="632.71" x2="76.20" y2="632.71" stroke="#4bb749" stroke-width="0.5" />
<line x1="81.44" y1="625.41" x2="81.44" y2="628.69" stroke="#4bb749" stroke-width="0.6" />
<line x1="80.24" y1="625.41" x2="82.64" y2="625.41" stroke="#4bb749" stroke-width="0.5" />
<line x1="80.24" y1="628.69" x2="82.64" y2="628.69" stroke="#4bb749" stroke-width="0.5" />
<line x1="87.88" y1="625.41" x2="87.88" y2="628.69" stroke="#4bb749" stroke-width="0.6" />
<line x1="86.68" y1="625.41" x2="89.08" y2="625.41" stroke="#4bb749" stroke-width="0.5" />
<line x1="86.68" y1="628.69" x2="89.08" y2="628.69" stroke="#4bb749" stroke-width="0.5" />
<line x1="94.32" y1="625.74" x2="94.32" y2="629.02" stroke="#4bb749" stroke-width="0.6" />
<line x1="93.12" y1="625.74" x2="95.52" y2="625.74" stroke="#4bb749" stroke-width="0.5" />
<line x1="93.12" y1="629.02" x2="95.52" y2="629.02" stroke="#4bb749" stroke-width="0.5" />
<line x1="100.76" y1="627.54" x2="100.76" y2="630.82" stroke="#4bb749" stroke-width="0.6" />
<line x1="99.56" y1="627.54" x2="101.96" y2="627.54" stroke="#4bb749" stroke-width="0.5" />
<line x1="99.56" y1="630.82" x2="101.96" y2="630.82" stroke="#4bb749" stroke-width="0.5" />
<line x1="107.20" y1="627.54" x2="107.20" y2="630.82" stroke="#4bb749" stroke-width="0.6" />
<line x1="106.00" y1="627.54" x2="108.40" y2="627.54" stroke="#4bb749" stroke-width="0.5" />
<line x1="106.00" y1="630.82" x2="108.40" y2="630.82" stroke="#4bb749" stroke-width="0.5" />
<line x1="113.64" y1="627.54" x2="113.64" y2="630.82" stroke="#4bb749" stroke-width="0.6" />
<line x1="112.44" y1="627.54" x2="114.84" y2="627.54" stroke="#4bb749" stroke-width="0.5" />
<line x1="112.44" y1="630.82" x2="114.84" y2="630.82" stroke="#4bb749" stroke-width="0.5" />
<polyline points="42.80,639.27 49.24,639.60 55.68,639.76 62.12,634.92 68.56,632.30 75.00,631.07 81.44,627.05 87.88,627.05 94.32,627.38 100.76,629.18 107.20,629.18 113.64,629.18" fill="none" stroke="#4bb749" stroke-width="0.9" />
<circle cx="42.80" cy="639.27" r="1.0" fill="#4bb749" />
<circle cx="49.24" cy="639.60" r="1.0" fill="#4bb749" />
<circle cx="55.68" cy="639.76" r="1.0" fill="#4bb749" />
<circle cx="62.12" cy="634.92" r="1.0" fill="#4bb749" />
<circle cx="68.56" cy="632.30" r="1.0" fill="#4bb749" />
<circle cx="75.00" cy="631.07" r="1.0" fill="#4bb749" />
<circle cx="81.44" cy="627.05" r="1.0" fill="#4bb749" />
<circle cx="87.88" cy="627.05" r="1.0" fill="#4bb749" />
<circle cx="94.32" cy="627.38" r="1.0" fill="#4bb749" />
<circle cx="100.76" cy="629.18" r="1.0" fill="#4bb749" />
<circle cx="107.20" cy="629.18" r="1.0" fill="#4bb749" />
<circle cx="113.64" cy="629.18" r="1.0" fill="#4bb749" />
<text x="85.10" y="600.60" font-size="8.0" text-anchor="middle" fill="#2a2a2a" stroke="#2a2a2a" stroke-width="0.1" textLength="45.5" lengthAdjust="spacingAndGlyphs" >Time (minutes)</text>
<text x="81.30" y="688.50" font-size="8.0" text-anchor="middle" fill="#2a2a2a" stroke="#2a2a2a" stroke-width="0.1" textLength="45.8" lengthAdjust="spacingAndGlyphs" >Time (minutes)</text>
<line x1="123.00" y1="539.40" x2="128.20" y2="539.40" stroke="#e5127d" stroke-width="0.9" />
<circle cx="125.60" cy="539.40" r="0.9" fill="#e5127d" />
<text x="131.10" y="541.50" font-size="6.0" text-anchor="start" fill="#333" stroke="#333" stroke-width="0.1" >UTD</text>
<line x1="123.00" y1="546.18" x2="128.20" y2="546.18" stroke="#1f5aa0" stroke-width="0.9" />
<circle cx="125.60" cy="546.18" r="0.9" fill="#1f5aa0" />
<text x="131.10" y="548.28" font-size="6.0" text-anchor="start" fill="#333" stroke="#333" stroke-width="0.1" >BCMA</text>
<line x1="123.00" y1="552.96" x2="128.20" y2="552.96" stroke="#2c1d6e" stroke-width="0.9" />
<circle cx="125.60" cy="552.96" r="0.9" fill="#2c1d6e" />
<text x="131.10" y="555.06" font-size="6.0" text-anchor="start" fill="#333" stroke="#333" stroke-width="0.1" >CD200RKO BCMA</text>
<line x1="123.00" y1="559.74" x2="128.20" y2="559.74" stroke="#f39a3c" stroke-width="0.9" />
<circle cx="125.60" cy="559.74" r="0.9" fill="#f39a3c" />
<text x="131.10" y="561.84" font-size="6.0" text-anchor="start" fill="#333" stroke="#333" stroke-width="0.1" >CD200RDN BCMA</text>
<line x1="123.00" y1="566.52" x2="128.20" y2="566.52" stroke="#4bb749" stroke-width="0.9" />
<circle cx="125.60" cy="566.52" r="0.9" fill="#4bb749" />
<text x="131.10" y="568.62" font-size="6.0" text-anchor="start" fill="#333" stroke="#333" stroke-width="0.1" >CD200R-CD28 BCMA</text>
<line x1="119.00" y1="625.00" x2="123.80" y2="625.00" stroke="#e5127d" stroke-width="0.9" />
<circle cx="121.40" cy="625.00" r="0.9" fill="#e5127d" />
<text x="127.00" y="627.10" font-size="6.0" text-anchor="start" fill="#333" stroke="#333" stroke-width="0.1" >UTD</text>
<line x1="119.00" y1="631.72" x2="123.80" y2="631.72" stroke="#1c6088" stroke-width="0.9" />
<circle cx="121.40" cy="631.72" r="0.9" fill="#1c6088" />
<text x="127.00" y="633.82" font-size="6.0" text-anchor="start" fill="#333" stroke="#333" stroke-width="0.1" >BCMA</text>
<line x1="119.00" y1="638.44" x2="123.80" y2="638.44" stroke="#4a2a7a" stroke-width="0.9" />
<circle cx="121.40" cy="638.44" r="0.9" fill="#4a2a7a" />
<text x="127.00" y="640.54" font-size="6.0" text-anchor="start" fill="#333" stroke="#333" stroke-width="0.1" >CD200RKO BCMA</text>
<line x1="119.00" y1="645.16" x2="123.80" y2="645.16" stroke="#f39a3c" stroke-width="0.9" />
<circle cx="121.40" cy="645.16" r="0.9" fill="#f39a3c" />
<text x="127.00" y="647.26" font-size="6.0" text-anchor="start" fill="#333" stroke="#333" stroke-width="0.1" >CD200RDN BCMA</text>
<line x1="119.00" y1="651.88" x2="123.80" y2="651.88" stroke="#4bb749" stroke-width="0.9" />
<circle cx="121.40" cy="651.88" r="0.9" fill="#4bb749" />
<text x="127.00" y="653.98" font-size="6.0" text-anchor="start" fill="#333" stroke="#333" stroke-width="0.1" >CD200R-CD28 BCMA</text>
<line x1="238.50" y1="597.30" x2="238.50" y2="635.10" stroke="#222" stroke-width="0.9" />
<line x1="238.10" y1="634.70" x2="274.20" y2="634.70" stroke="#222" stroke-width="0.9" />
<line x1="234.70" y1="634.70" x2="238.50" y2="634.70" stroke="#222" stroke-width="0.7" />
<text x="232.50" y="636.80" font-size="6.2" text-anchor="end" fill="#2a2a2a" stroke="#2a2a2a" stroke-width="0.1" textLength="3.55" lengthAdjust="spacingAndGlyphs" >0</text>
<line x1="234.70" y1="625.73" x2="238.50" y2="625.73" stroke="#222" stroke-width="0.7" />
<text x="232.50" y="627.83" font-size="6.2" text-anchor="end" fill="#2a2a2a" stroke="#2a2a2a" stroke-width="0.1" textLength="7.1" lengthAdjust="spacingAndGlyphs" >10</text>
<line x1="234.70" y1="616.75" x2="238.50" y2="616.75" stroke="#222" stroke-width="0.7" />
<text x="232.50" y="618.85" font-size="6.2" text-anchor="end" fill="#2a2a2a" stroke="#2a2a2a" stroke-width="0.1" textLength="7.1" lengthAdjust="spacingAndGlyphs" >20</text>
<line x1="234.70" y1="607.77" x2="238.50" y2="607.77" stroke="#222" stroke-width="0.7" />
<text x="232.50" y="609.88" font-size="6.2" text-anchor="end" fill="#2a2a2a" stroke="#2a2a2a" stroke-width="0.1" textLength="7.1" lengthAdjust="spacingAndGlyphs" >30</text>
<line x1="234.70" y1="598.80" x2="238.50" y2="598.80" stroke="#222" stroke-width="0.7" />
<text x="232.50" y="600.90" font-size="6.2" text-anchor="end" fill="#2a2a2a" stroke="#2a2a2a" stroke-width="0.1" textLength="7.1" lengthAdjust="spacingAndGlyphs" >40</text>
<rect x="240.35" y="620.34" width="4.30" height="14.36" fill="#e5127d" />
<line x1="241.20" y1="619.64" x2="243.80" y2="619.64" stroke="#e5127d" stroke-width="0.7" />
<line x1="242.50" y1="619.64" x2="242.50" y2="620.34" stroke="#e5127d" stroke-width="0.7" />
<line x1="242.50" y1="634.70" x2="242.50" y2="637.10" stroke="#222" stroke-width="0.7" />
<rect x="247.15" y="608.67" width="4.30" height="26.03" fill="#1d4e89" />
<line x1="248.00" y1="607.97" x2="250.60" y2="607.97" stroke="#1d4e89" stroke-width="0.7" />
<line x1="249.30" y1="607.97" x2="249.30" y2="608.67" stroke="#1d4e89" stroke-width="0.7" />
<line x1="249.30" y1="634.70" x2="249.30" y2="637.10" stroke="#222" stroke-width="0.7" />
<rect x="253.85" y="611.37" width="4.30" height="23.34" fill="#5c2b6e" />
<line x1="254.70" y1="610.66" x2="257.30" y2="610.66" stroke="#5c2b6e" stroke-width="0.7" />
<line x1="256.00" y1="610.66" x2="256.00" y2="611.37" stroke="#5c2b6e" stroke-width="0.7" />
<line x1="256.00" y1="634.70" x2="256.00" y2="637.10" stroke="#222" stroke-width="0.7" />
<rect x="260.35" y="605.08" width="4.30" height="29.62" fill="#f7941d" />
<line x1="261.20" y1="604.38" x2="263.80" y2="604.38" stroke="#f7941d" stroke-width="0.7" />
<line x1="262.50" y1="604.38" x2="262.50" y2="605.08" stroke="#f7941d" stroke-width="0.7" />
<line x1="262.50" y1="634.70" x2="262.50" y2="637.10" stroke="#222" stroke-width="0.7" />
<rect x="267.05" y="602.84" width="4.30" height="31.86" fill="#3db54a" />
<line x1="267.90" y1="602.14" x2="270.50" y2="602.14" stroke="#3db54a" stroke-width="0.7" />
<line x1="269.20" y1="602.14" x2="269.20" y2="602.84" stroke="#3db54a" stroke-width="0.7" />
<line x1="269.20" y1="634.70" x2="269.20" y2="637.10" stroke="#222" stroke-width="0.7" />
<text x="255.80" y="579.30" font-size="8.4" text-anchor="middle" fill="#2a2a2a" stroke="#2a2a2a" stroke-width="0.1" textLength="40.8" lengthAdjust="spacingAndGlyphs" >Basal OCR</text>
<text x="219.40" y="613.80" font-size="7.4" text-anchor="middle" fill="#2a2a2a" stroke="#2a2a2a" stroke-width="0.1" textLength="49.9" lengthAdjust="spacingAndGlyphs" transform="rotate(-90 219.40 613.80)" >OCR (pmol/min)</text>
<line x1="249.30" y1="602.30" x2="256.00" y2="602.30" stroke="#222" stroke-width="0.6" />
<line x1="249.30" y1="602.30" x2="249.30" y2="604.10" stroke="#222" stroke-width="0.6" />
<line x1="256.00" y1="602.30" x2="256.00" y2="604.10" stroke="#222" stroke-width="0.6" />
<text x="252.65" y="601.30" font-size="6.4" text-anchor="middle" fill="#2a2a2a" stroke="#2a2a2a" stroke-width="0.1" >ns</text>
<line x1="249.30" y1="595.40" x2="262.50" y2="595.40" stroke="#222" stroke-width="0.6" />
<line x1="249.30" y1="595.40" x2="249.30" y2="597.20" stroke="#222" stroke-width="0.6" />
<line x1="262.50" y1="595.40" x2="262.50" y2="597.20" stroke="#222" stroke-width="0.6" />
<text x="255.90" y="596.00" font-size="6.8" text-anchor="middle" fill="#2a2a2a" stroke="#2a2a2a" stroke-width="0.1" textLength="5.3" lengthAdjust="spacingAndGlyphs" >**</text>
<line x1="249.30" y1="589.60" x2="269.20" y2="589.60" stroke="#222" stroke-width="0.6" />
<line x1="249.30" y1="589.60" x2="249.30" y2="591.40" stroke="#222" stroke-width="0.6" />
<line x1="269.20" y1="589.60" x2="269.20" y2="591.40" stroke="#222" stroke-width="0.6" />
<text x="259.25" y="590.20" font-size="6.8" text-anchor="middle" fill="#2a2a2a" stroke="#2a2a2a" stroke-width="0.1" textLength="5.3" lengthAdjust="spacingAndGlyphs" >**</text>
<text x="244.10" y="644.20" font-size="7.2" text-anchor="end" fill="#2a2a2a" stroke="#2a2a2a" stroke-width="0.1" textLength="12" lengthAdjust="spacingAndGlyphs" transform="rotate(-45 244.10 644.20)" >UTD</text>
<text x="250.90" y="645.20" font-size="7.2" text-anchor="end" fill="#2a2a2a" stroke="#2a2a2a" stroke-width="0.1" textLength="18.5" lengthAdjust="spacingAndGlyphs" transform="rotate(-45 250.90 645.20)" >BCMA</text>
<text x="257.60" y="645.20" font-size="7.2" text-anchor="end" fill="#2a2a2a" stroke="#2a2a2a" stroke-width="0.1" textLength="52" lengthAdjust="spacingAndGlyphs" transform="rotate(-45 257.60 645.20)" >CD200RKO BCMA</text>
<text x="264.10" y="645.20" font-size="7.2" text-anchor="end" fill="#2a2a2a" stroke="#2a2a2a" stroke-width="0.1" textLength="52" lengthAdjust="spacingAndGlyphs" transform="rotate(-45 264.10 645.20)" >CD200RDN BCMA</text>
<text x="270.80" y="645.20" font-size="7.2" text-anchor="end" fill="#2a2a2a" stroke="#2a2a2a" stroke-width="0.1" textLength="62.5" lengthAdjust="spacingAndGlyphs" transform="rotate(-45 270.80 645.20)" >CD200R-CD28 BCMA</text>
<line x1="312.30" y1="597.30" x2="312.30" y2="635.00" stroke="#222" stroke-width="0.9" />
<line x1="311.90" y1="634.60" x2="348.00" y2="634.60" stroke="#222" stroke-width="0.9" />
<line x1="308.50" y1="634.60" x2="312.30" y2="634.60" stroke="#222" stroke-width="0.7" />
<text x="306.30" y="636.70" font-size="6.2" text-anchor="end" fill="#2a2a2a" stroke="#2a2a2a" stroke-width="0.1" textLength="3.55" lengthAdjust="spacingAndGlyphs" >0</text>
<line x1="308.50" y1="625.65" x2="312.30" y2="625.65" stroke="#222" stroke-width="0.7" />
<text x="306.30" y="627.75" font-size="6.2" text-anchor="end" fill="#2a2a2a" stroke="#2a2a2a" stroke-width="0.1" textLength="7.1" lengthAdjust="spacingAndGlyphs" >20</text>
<line x1="308.50" y1="616.70" x2="312.30" y2="616.70" stroke="#222" stroke-width="0.7" />
<text x="306.30" y="618.80" font-size="6.2" text-anchor="end" fill="#2a2a2a" stroke="#2a2a2a" stroke-width="0.1" textLength="7.1" lengthAdjust="spacingAndGlyphs" >40</text>
<line x1="308.50" y1="607.75" x2="312.30" y2="607.75" stroke="#222" stroke-width="0.7" />
<text x="306.30" y="609.85" font-size="6.2" text-anchor="end" fill="#2a2a2a" stroke="#2a2a2a" stroke-width="0.1" textLength="7.1" lengthAdjust="spacingAndGlyphs" >60</text>
<line x1="308.50" y1="598.80" x2="312.30" y2="598.80" stroke="#222" stroke-width="0.7" />
<text x="306.30" y="600.90" font-size="6.2" text-anchor="end" fill="#2a2a2a" stroke="#2a2a2a" stroke-width="0.1" textLength="7.1" lengthAdjust="spacingAndGlyphs" >80</text>
<rect x="314.35" y="621.62" width="4.30" height="12.98" fill="#e5127d" />
<line x1="315.20" y1="620.92" x2="317.80" y2="620.92" stroke="#e5127d" stroke-width="0.7" />
<line x1="316.50" y1="620.92" x2="316.50" y2="621.62" stroke="#e5127d" stroke-width="0.7" />
<line x1="316.50" y1="634.60" x2="316.50" y2="637.00" stroke="#222" stroke-width="0.7" />
<rect x="320.85" y="614.01" width="4.30" height="20.59" fill="#1d4e89" />
<line x1="321.70" y1="613.31" x2="324.30" y2="613.31" stroke="#1d4e89" stroke-width="0.7" />
<line x1="323.00" y1="613.31" x2="323.00" y2="614.01" stroke="#1d4e89" stroke-width="0.7" />
<line x1="323.00" y1="634.60" x2="323.00" y2="637.00" stroke="#222" stroke-width="0.7" />
<rect x="327.05" y="616.70" width="4.30" height="17.90" fill="#5c2b6e" />
<line x1="327.90" y1="616.00" x2="330.50" y2="616.00" stroke="#5c2b6e" stroke-width="0.7" />
<line x1="329.20" y1="616.00" x2="329.20" y2="616.70" stroke="#5c2b6e" stroke-width="0.7" />
<line x1="329.20" y1="634.60" x2="329.20" y2="637.00" stroke="#222" stroke-width="0.7" />
<rect x="333.65" y="608.64" width="4.30" height="25.96" fill="#f7941d" />
<line x1="334.50" y1="607.94" x2="337.10" y2="607.94" stroke="#f7941d" stroke-width="0.7" />
<line x1="335.80" y1="607.94" x2="335.80" y2="608.64" stroke="#f7941d" stroke-width="0.7" />
<line x1="335.80" y1="634.60" x2="335.80" y2="637.00" stroke="#222" stroke-width="0.7" />
<rect x="340.15" y="607.30" width="4.30" height="27.30" fill="#3db54a" />
<line x1="341.00" y1="606.60" x2="343.60" y2="606.60" stroke="#3db54a" stroke-width="0.7" />
<line x1="342.30" y1="606.60" x2="342.30" y2="607.30" stroke="#3db54a" stroke-width="0.7" />
<line x1="342.30" y1="634.60" x2="342.30" y2="637.00" stroke="#222" stroke-width="0.7" />
<text x="331.70" y="579.30" font-size="8.4" text-anchor="middle" fill="#2a2a2a" stroke="#2a2a2a" stroke-width="0.1" textLength="39.8" lengthAdjust="spacingAndGlyphs" >Peak OCR</text>
<text x="293.30" y="614.40" font-size="7.4" text-anchor="middle" fill="#2a2a2a" stroke="#2a2a2a" stroke-width="0.1" textLength="49.6" lengthAdjust="spacingAndGlyphs" transform="rotate(-90 293.30 614.40)" >OCR (pmol/min)</text>
<line x1="323.00" y1="609.70" x2="329.20" y2="609.70" stroke="#222" stroke-width="0.6" />
<line x1="323.00" y1="609.70" x2="323.00" y2="611.50" stroke="#222" stroke-width="0.6" />
<line x1="329.20" y1="609.70" x2="329.20" y2="611.50" stroke="#222" stroke-width="0.6" />
<text x="326.10" y="610.30" font-size="6.8" text-anchor="middle" fill="#2a2a2a" stroke="#2a2a2a" stroke-width="0.1" textLength="2.65" lengthAdjust="spacingAndGlyphs" >*</text>
<line x1="323.00" y1="604.60" x2="335.80" y2="604.60" stroke="#222" stroke-width="0.6" />
<line x1="323.00" y1="604.60" x2="323.00" y2="606.40" stroke="#222" stroke-width="0.6" />
<line x1="335.80" y1="604.60" x2="335.80" y2="606.40" stroke="#222" stroke-width="0.6" />
<text x="329.40" y="605.20" font-size="6.8" text-anchor="middle" fill="#2a2a2a" stroke="#2a2a2a" stroke-width="0.1" textLength="10.6" lengthAdjust="spacingAndGlyphs" >****</text>
<line x1="323.00" y1="598.80" x2="342.30" y2="598.80" stroke="#222" stroke-width="0.6" />
<line x1="323.00" y1="598.80" x2="323.00" y2="600.60" stroke="#222" stroke-width="0.6" />
<line x1="342.30" y1="598.80" x2="342.30" y2="600.60" stroke="#222" stroke-width="0.6" />
<text x="332.65" y="599.40" font-size="6.8" text-anchor="middle" fill="#2a2a2a" stroke="#2a2a2a" stroke-width="0.1" textLength="7.949999999999999" lengthAdjust="spacingAndGlyphs" >***</text>
<text x="318.10" y="644.20" font-size="7.2" text-anchor="end" fill="#2a2a2a" stroke="#2a2a2a" stroke-width="0.1" textLength="12" lengthAdjust="spacingAndGlyphs" transform="rotate(-45 318.10 644.20)" >UTD</text>
<text x="324.60" y="645.20" font-size="7.2" text-anchor="end" fill="#2a2a2a" stroke="#2a2a2a" stroke-width="0.1" textLength="18.5" lengthAdjust="spacingAndGlyphs" transform="rotate(-45 324.60 645.20)" >BCMA</text>
<text x="330.80" y="645.20" font-size="7.2" text-anchor="end" fill="#2a2a2a" stroke="#2a2a2a" stroke-width="0.1" textLength="52" lengthAdjust="spacingAndGlyphs" transform="rotate(-45 330.80 645.20)" >CD200RKO BCMA</text>
<text x="337.40" y="645.20" font-size="7.2" text-anchor="end" fill="#2a2a2a" stroke="#2a2a2a" stroke-width="0.1" textLength="52" lengthAdjust="spacingAndGlyphs" transform="rotate(-45 337.40 645.20)" >CD200RDN BCMA</text>
<text x="343.90" y="645.20" font-size="7.2" text-anchor="end" fill="#2a2a2a" stroke="#2a2a2a" stroke-width="0.1" textLength="62.5" lengthAdjust="spacingAndGlyphs" transform="rotate(-45 343.90 645.20)" >CD200R-CD28 BCMA</text>
<line x1="386.50" y1="600.80" x2="386.50" y2="635.00" stroke="#222" stroke-width="0.9" />
<line x1="386.10" y1="634.60" x2="422.30" y2="634.60" stroke="#222" stroke-width="0.9" />
<line x1="382.70" y1="634.60" x2="386.50" y2="634.60" stroke="#222" stroke-width="0.7" />
<text x="380.50" y="636.70" font-size="6.2" text-anchor="end" fill="#2a2a2a" stroke="#2a2a2a" stroke-width="0.1" textLength="3.55" lengthAdjust="spacingAndGlyphs" >0</text>
<line x1="382.70" y1="626.52" x2="386.50" y2="626.52" stroke="#222" stroke-width="0.7" />
<text x="380.50" y="628.62" font-size="6.2" text-anchor="end" fill="#2a2a2a" stroke="#2a2a2a" stroke-width="0.1" textLength="7.1" lengthAdjust="spacingAndGlyphs" >10</text>
<line x1="382.70" y1="618.45" x2="386.50" y2="618.45" stroke="#222" stroke-width="0.7" />
<text x="380.50" y="620.55" font-size="6.2" text-anchor="end" fill="#2a2a2a" stroke="#2a2a2a" stroke-width="0.1" textLength="7.1" lengthAdjust="spacingAndGlyphs" >20</text>
<line x1="382.70" y1="610.38" x2="386.50" y2="610.38" stroke="#222" stroke-width="0.7" />
<text x="380.50" y="612.48" font-size="6.2" text-anchor="end" fill="#2a2a2a" stroke="#2a2a2a" stroke-width="0.1" textLength="7.1" lengthAdjust="spacingAndGlyphs" >30</text>
<line x1="382.70" y1="602.30" x2="386.50" y2="602.30" stroke="#222" stroke-width="0.7" />
<text x="380.50" y="604.40" font-size="6.2" text-anchor="end" fill="#2a2a2a" stroke="#2a2a2a" stroke-width="0.1" textLength="7.1" lengthAdjust="spacingAndGlyphs" >40</text>
<rect x="388.45" y="630.16" width="4.30" height="4.44" fill="#e5127d" />
<line x1="389.30" y1="629.46" x2="391.90" y2="629.46" stroke="#e5127d" stroke-width="0.7" />
<line x1="390.60" y1="629.46" x2="390.60" y2="630.16" stroke="#e5127d" stroke-width="0.7" />
<line x1="390.60" y1="634.60" x2="390.60" y2="637.00" stroke="#222" stroke-width="0.7" />
<rect x="394.35" y="617.64" width="4.30" height="16.96" fill="#1d4e89" />
<line x1="395.20" y1="616.94" x2="397.80" y2="616.94" stroke="#1d4e89" stroke-width="0.7" />
<line x1="396.50" y1="616.94" x2="396.50" y2="617.64" stroke="#1d4e89" stroke-width="0.7" />
<line x1="396.50" y1="634.60" x2="396.50" y2="637.00" stroke="#222" stroke-width="0.7" />
<rect x="400.85" y="618.05" width="4.30" height="16.55" fill="#5c2b6e" />
<line x1="401.70" y1="617.35" x2="404.30" y2="617.35" stroke="#5c2b6e" stroke-width="0.7" />
<line x1="403.00" y1="617.35" x2="403.00" y2="618.05" stroke="#5c2b6e" stroke-width="0.7" />
<line x1="403.00" y1="634.60" x2="403.00" y2="637.00" stroke="#222" stroke-width="0.7" />
<rect x="406.65" y="611.59" width="4.30" height="23.01" fill="#f7941d" />
<line x1="407.50" y1="610.89" x2="410.10" y2="610.89" stroke="#f7941d" stroke-width="0.7" />
<line x1="408.80" y1="610.89" x2="408.80" y2="611.59" stroke="#f7941d" stroke-width="0.7" />
<line x1="408.80" y1="634.60" x2="408.80" y2="637.00" stroke="#222" stroke-width="0.7" />
<rect x="412.85" y="609.57" width="4.30" height="25.03" fill="#3db54a" />
<line x1="413.70" y1="608.87" x2="416.30" y2="608.87" stroke="#3db54a" stroke-width="0.7" />
<line x1="415.00" y1="608.87" x2="415.00" y2="609.57" stroke="#3db54a" stroke-width="0.7" />
<line x1="415.00" y1="634.60" x2="415.00" y2="637.00" stroke="#222" stroke-width="0.7" />
<text x="404.70" y="579.30" font-size="8.4" text-anchor="middle" fill="#2a2a2a" stroke="#2a2a2a" stroke-width="0.1" textLength="44.4" lengthAdjust="spacingAndGlyphs" >Basal ECAR</text>
<text x="367.90" y="617.40" font-size="7.4" text-anchor="middle" fill="#2a2a2a" stroke="#2a2a2a" stroke-width="0.1" textLength="50.7" lengthAdjust="spacingAndGlyphs" transform="rotate(-90 367.90 617.40)" >ECAR (mpH/min)</text>
<line x1="396.50" y1="612.70" x2="403.00" y2="612.70" stroke="#222" stroke-width="0.6" />
<line x1="396.50" y1="612.70" x2="396.50" y2="614.50" stroke="#222" stroke-width="0.6" />
<line x1="403.00" y1="612.70" x2="403.00" y2="614.50" stroke="#222" stroke-width="0.6" />
<text x="399.75" y="611.70" font-size="6.4" text-anchor="middle" fill="#2a2a2a" stroke="#2a2a2a" stroke-width="0.1" >ns</text>
<line x1="396.50" y1="608.00" x2="408.80" y2="608.00" stroke="#222" stroke-width="0.6" />
<line x1="396.50" y1="608.00" x2="396.50" y2="609.80" stroke="#222" stroke-width="0.6" />
<line x1="408.80" y1="608.00" x2="408.80" y2="609.80" stroke="#222" stroke-width="0.6" />
<text x="402.65" y="608.60" font-size="6.8" text-anchor="middle" fill="#2a2a2a" stroke="#2a2a2a" stroke-width="0.1" textLength="10.6" lengthAdjust="spacingAndGlyphs" >****</text>
<line x1="396.50" y1="603.50" x2="415.00" y2="603.50" stroke="#222" stroke-width="0.6" />
<line x1="396.50" y1="603.50" x2="396.50" y2="605.30" stroke="#222" stroke-width="0.6" />
<line x1="415.00" y1="603.50" x2="415.00" y2="605.30" stroke="#222" stroke-width="0.6" />
<text x="405.75" y="604.10" font-size="6.8" text-anchor="middle" fill="#2a2a2a" stroke="#2a2a2a" stroke-width="0.1" textLength="10.6" lengthAdjust="spacingAndGlyphs" >****</text>
<text x="392.20" y="644.20" font-size="7.2" text-anchor="end" fill="#2a2a2a" stroke="#2a2a2a" stroke-width="0.1" textLength="12" lengthAdjust="spacingAndGlyphs" transform="rotate(-45 392.20 644.20)" >UTD</text>
<text x="398.10" y="645.20" font-size="7.2" text-anchor="end" fill="#2a2a2a" stroke="#2a2a2a" stroke-width="0.1" textLength="18.5" lengthAdjust="spacingAndGlyphs" transform="rotate(-45 398.10 645.20)" >BCMA</text>
<text x="404.60" y="645.20" font-size="7.2" text-anchor="end" fill="#2a2a2a" stroke="#2a2a2a" stroke-width="0.1" textLength="52" lengthAdjust="spacingAndGlyphs" transform="rotate(-45 404.60 645.20)" >CD200RKO BCMA</text>
<text x="410.40" y="645.20" font-size="7.2" text-anchor="end" fill="#2a2a2a" stroke="#2a2a2a" stroke-width="0.1" textLength="52" lengthAdjust="spacingAndGlyphs" transform="rotate(-45 410.40 645.20)" >CD200RDN BCMA</text>
<text x="416.60" y="645.20" font-size="7.2" text-anchor="end" fill="#2a2a2a" stroke="#2a2a2a" stroke-width="0.1" textLength="62.5" lengthAdjust="spacingAndGlyphs" transform="rotate(-45 416.60 645.20)" >CD200R-CD28 BCMA</text>
<line x1="461.90" y1="600.00" x2="461.90" y2="634.80" stroke="#222" stroke-width="0.9" />
<line x1="461.50" y1="634.40" x2="497.70" y2="634.40" stroke="#222" stroke-width="0.9" />
<line x1="458.10" y1="634.40" x2="461.90" y2="634.40" stroke="#222" stroke-width="0.7" />
<text x="455.90" y="636.50" font-size="6.2" text-anchor="end" fill="#2a2a2a" stroke="#2a2a2a" stroke-width="0.1" textLength="3.55" lengthAdjust="spacingAndGlyphs" >0</text>
<line x1="458.10" y1="623.43" x2="461.90" y2="623.43" stroke="#222" stroke-width="0.7" />
<text x="455.90" y="625.53" font-size="6.2" text-anchor="end" fill="#2a2a2a" stroke="#2a2a2a" stroke-width="0.1" textLength="7.1" lengthAdjust="spacingAndGlyphs" >20</text>
<line x1="458.10" y1="612.47" x2="461.90" y2="612.47" stroke="#222" stroke-width="0.7" />
<text x="455.90" y="614.57" font-size="6.2" text-anchor="end" fill="#2a2a2a" stroke="#2a2a2a" stroke-width="0.1" textLength="7.1" lengthAdjust="spacingAndGlyphs" >40</text>
<line x1="458.10" y1="601.50" x2="461.90" y2="601.50" stroke="#222" stroke-width="0.7" />
<text x="455.90" y="603.60" font-size="6.2" text-anchor="end" fill="#2a2a2a" stroke="#2a2a2a" stroke-width="0.1" textLength="7.1" lengthAdjust="spacingAndGlyphs" >60</text>
<rect x="464.65" y="626.17" width="4.30" height="8.23" fill="#e5127d" />
<line x1="465.50" y1="625.47" x2="468.10" y2="625.47" stroke="#e5127d" stroke-width="0.7" />
<line x1="466.80" y1="625.47" x2="466.80" y2="626.17" stroke="#e5127d" stroke-width="0.7" />
<line x1="466.80" y1="634.40" x2="466.80" y2="636.80" stroke="#222" stroke-width="0.7" />
<rect x="470.85" y="615.76" width="4.30" height="18.64" fill="#1d4e89" />
<line x1="471.70" y1="615.06" x2="474.30" y2="615.06" stroke="#1d4e89" stroke-width="0.7" />
<line x1="473.00" y1="615.06" x2="473.00" y2="615.76" stroke="#1d4e89" stroke-width="0.7" />
<line x1="473.00" y1="634.40" x2="473.00" y2="636.80" stroke="#222" stroke-width="0.7" />
<rect x="476.95" y="616.85" width="4.30" height="17.55" fill="#5c2b6e" />
<line x1="477.80" y1="616.15" x2="480.40" y2="616.15" stroke="#5c2b6e" stroke-width="0.7" />
<line x1="479.10" y1="616.15" x2="479.10" y2="616.85" stroke="#5c2b6e" stroke-width="0.7" />
<line x1="479.10" y1="634.40" x2="479.10" y2="636.80" stroke="#222" stroke-width="0.7" />
<rect x="483.25" y="610.82" width="4.30" height="23.58" fill="#f7941d" />
<line x1="484.10" y1="610.12" x2="486.70" y2="610.12" stroke="#f7941d" stroke-width="0.7" />
<line x1="485.40" y1="610.12" x2="485.40" y2="610.82" stroke="#f7941d" stroke-width="0.7" />
<line x1="485.40" y1="634.40" x2="485.40" y2="636.80" stroke="#222" stroke-width="0.7" />
<rect x="489.35" y="608.63" width="4.30" height="25.77" fill="#3db54a" />
<line x1="490.20" y1="607.93" x2="492.80" y2="607.93" stroke="#3db54a" stroke-width="0.7" />
<line x1="491.50" y1="607.93" x2="491.50" y2="608.63" stroke="#3db54a" stroke-width="0.7" />
<line x1="491.50" y1="634.40" x2="491.50" y2="636.80" stroke="#222" stroke-width="0.7" />
<text x="480.40" y="579.30" font-size="8.4" text-anchor="middle" fill="#2a2a2a" stroke="#2a2a2a" stroke-width="0.1" textLength="43.6" lengthAdjust="spacingAndGlyphs" >Peak ECAR</text>
<text x="443.70" y="616.70" font-size="7.4" text-anchor="middle" fill="#2a2a2a" stroke="#2a2a2a" stroke-width="0.1" textLength="51.4" lengthAdjust="spacingAndGlyphs" transform="rotate(-90 443.70 616.70)" >ECAR (mpH/min)</text>
<line x1="473.00" y1="613.60" x2="479.10" y2="613.60" stroke="#222" stroke-width="0.6" />
<line x1="473.00" y1="613.60" x2="473.00" y2="615.40" stroke="#222" stroke-width="0.6" />
<line x1="479.10" y1="613.60" x2="479.10" y2="615.40" stroke="#222" stroke-width="0.6" />
<text x="476.05" y="612.60" font-size="6.4" text-anchor="middle" fill="#2a2a2a" stroke="#2a2a2a" stroke-width="0.1" >ns</text>
<line x1="473.00" y1="607.30" x2="485.40" y2="607.30" stroke="#222" stroke-width="0.6" />
<line x1="473.00" y1="607.30" x2="473.00" y2="609.10" stroke="#222" stroke-width="0.6" />
<line x1="485.40" y1="607.30" x2="485.40" y2="609.10" stroke="#222" stroke-width="0.6" />
<text x="479.20" y="607.90" font-size="6.8" text-anchor="middle" fill="#2a2a2a" stroke="#2a2a2a" stroke-width="0.1" textLength="10.6" lengthAdjust="spacingAndGlyphs" >****</text>
<line x1="473.00" y1="601.50" x2="491.50" y2="601.50" stroke="#222" stroke-width="0.6" />
<line x1="473.00" y1="601.50" x2="473.00" y2="603.30" stroke="#222" stroke-width="0.6" />
<line x1="491.50" y1="601.50" x2="491.50" y2="603.30" stroke="#222" stroke-width="0.6" />
<text x="482.25" y="602.10" font-size="6.8" text-anchor="middle" fill="#2a2a2a" stroke="#2a2a2a" stroke-width="0.1" textLength="10.6" lengthAdjust="spacingAndGlyphs" >****</text>
<text x="468.40" y="644.20" font-size="7.2" text-anchor="end" fill="#2a2a2a" stroke="#2a2a2a" stroke-width="0.1" textLength="12" lengthAdjust="spacingAndGlyphs" transform="rotate(-45 468.40 644.20)" >UTD</text>
<text x="474.60" y="645.20" font-size="7.2" text-anchor="end" fill="#2a2a2a" stroke="#2a2a2a" stroke-width="0.1" textLength="18.5" lengthAdjust="spacingAndGlyphs" transform="rotate(-45 474.60 645.20)" >BCMA</text>
<text x="480.70" y="645.20" font-size="7.2" text-anchor="end" fill="#2a2a2a" stroke="#2a2a2a" stroke-width="0.1" textLength="52" lengthAdjust="spacingAndGlyphs" transform="rotate(-45 480.70 645.20)" >CD200RKO BCMA</text>
<text x="487.00" y="645.20" font-size="7.2" text-anchor="end" fill="#2a2a2a" stroke="#2a2a2a" stroke-width="0.1" textLength="52" lengthAdjust="spacingAndGlyphs" transform="rotate(-45 487.00 645.20)" >CD200RDN BCMA</text>
<text x="493.10" y="645.20" font-size="7.2" text-anchor="end" fill="#2a2a2a" stroke="#2a2a2a" stroke-width="0.1" textLength="62.5" lengthAdjust="spacingAndGlyphs" transform="rotate(-45 493.10 645.20)" >CD200R-CD28 BCMA</text>
<rect x="0.5" y="0.5" width="519" height="697" fill="none" stroke="#555" stroke-width="1"/>
</svg>
</body></html>
